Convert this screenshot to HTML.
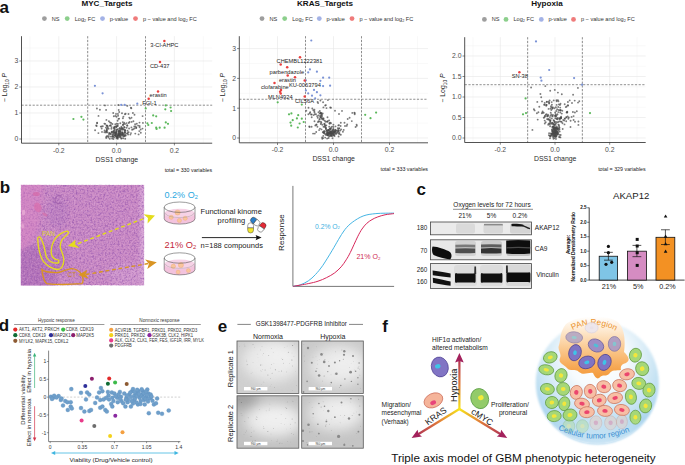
<!DOCTYPE html><html><head><meta charset="utf-8"><style>html,body{margin:0;padding:0;background:#fff;overflow:hidden}svg{display:block}</style></head><body><svg width="685" height="465" viewBox="0 0 685 465" font-family='"Liberation Sans", sans-serif'>
<rect width="685" height="465" fill="#fff"/>
<defs>
<filter color-interpolation-filters="sRGB" id="hnoise" x="0" y="0" width="100%" height="100%" filterUnits="objectBoundingBox">
  <feTurbulence type="fractalNoise" baseFrequency="0.55" numOctaves="2" seed="4" result="n"/>
  <feColorMatrix in="n" type="matrix" values="0 0 0 0 0.56  0 0 0 0 0.31  0 0 0 0 0.67  1.7 0 0 0 -0.74"/>
  <feGaussianBlur stdDeviation="0.5"/>
</filter>
<filter color-interpolation-filters="sRGB" id="hnoise2" x="0" y="0" width="100%" height="100%" filterUnits="objectBoundingBox">
  <feTurbulence type="fractalNoise" baseFrequency="0.7" numOctaves="1" seed="9" result="n"/>
  <feColorMatrix in="n" type="matrix" values="0 0 0 0 1  0 0 0 0 0.85  0 0 0 0 1  0 2.0 0 0 -1.0"/>
</filter>
<filter color-interpolation-filters="sRGB" id="mblur" x="-1" y="-1" width="3" height="3"><feGaussianBlur stdDeviation="6"/></filter>
<filter color-interpolation-filters="sRGB" id="blur03" x="-1" y="-1" width="3" height="3"><feGaussianBlur stdDeviation="0.45"/></filter>
<filter color-interpolation-filters="sRGB" id="cblur" x="-0.1" y="-0.1" width="1.2" height="1.2"><feGaussianBlur stdDeviation="1.2"/></filter>
<filter color-interpolation-filters="sRGB" id="blur1"><feGaussianBlur stdDeviation="1.2"/></filter>
<filter color-interpolation-filters="sRGB" id="blur05"><feGaussianBlur stdDeviation="0.6"/></filter>
<filter color-interpolation-filters="sRGB" id="blur2"><feGaussianBlur stdDeviation="2.2"/></filter>
<filter color-interpolation-filters="sRGB" id="blur3"><feGaussianBlur stdDeviation="3.5"/></filter>
<filter color-interpolation-filters="sRGB" id="mnoise" x="0" y="0" width="100%" height="100%" filterUnits="objectBoundingBox">
  <feTurbulence type="fractalNoise" baseFrequency="0.9" numOctaves="1" seed="2" result="n"/>
  <feColorMatrix in="n" type="matrix" values="0 0 0 0 0.3  0 0 0 0 0.3  0 0 0 0 0.3  1.8 0 0 0 -0.95"/>
</filter>
<radialGradient id="mic1" cx="0.55" cy="0.4" r="0.75">
  <stop offset="0" stop-color="#f2f2f2"/><stop offset="0.45" stop-color="#ececec"/><stop offset="0.75" stop-color="#d6d6d6"/><stop offset="1" stop-color="#b8b8b8"/>
</radialGradient>
<radialGradient id="mic2" cx="0.6" cy="0.45" r="0.75">
  <stop offset="0" stop-color="#f4f4f4"/><stop offset="0.4" stop-color="#eeeeee"/><stop offset="0.72" stop-color="#d4d4d4"/><stop offset="1" stop-color="#b2b2b2"/>
</radialGradient>
<radialGradient id="mic3" cx="0.6" cy="0.55" r="0.8">
  <stop offset="0" stop-color="#f2f2f2"/><stop offset="0.4" stop-color="#eaeaea"/><stop offset="0.7" stop-color="#cfcfcf"/><stop offset="1" stop-color="#9c9c9c"/>
</radialGradient>
<radialGradient id="mic4" cx="0.55" cy="0.45" r="0.78">
  <stop offset="0" stop-color="#f3f3f3"/><stop offset="0.45" stop-color="#ececec"/><stop offset="0.75" stop-color="#d2d2d2"/><stop offset="1" stop-color="#b0b0b0"/>
</radialGradient>
<radialGradient id="tumor" cx="0.5" cy="0.3" r="0.66">
  <stop offset="0" stop-color="#ffffff"/><stop offset="0.35" stop-color="#f7fbfd"/><stop offset="0.6" stop-color="#d9ecf7"/><stop offset="0.8" stop-color="#c0e0f2"/><stop offset="1" stop-color="#a4d1ed"/>
</radialGradient>
<linearGradient id="pan" x1="0" y1="0" x2="0" y2="1">
  <stop offset="0" stop-color="#ffffff"/><stop offset="0.2" stop-color="#feecd6"/><stop offset="0.55" stop-color="#fac68a"/><stop offset="0.85" stop-color="#f6a54e"/><stop offset="1" stop-color="#f39a3a"/>
</linearGradient>
<linearGradient id="axup" gradientUnits="userSpaceOnUse" x1="459.4" y1="409" x2="459.4" y2="353">
  <stop offset="0" stop-color="#f7e51a"/><stop offset="0.45" stop-color="#e07a3a"/><stop offset="1" stop-color="#a3215c"/>
</linearGradient>
<linearGradient id="axl" gradientUnits="userSpaceOnUse" x1="459.4" y1="409" x2="412" y2="438">
  <stop offset="0" stop-color="#f7e51a"/><stop offset="0.45" stop-color="#e07a3a"/><stop offset="1" stop-color="#a3215c"/>
</linearGradient>
<linearGradient id="axr" gradientUnits="userSpaceOnUse" x1="459.4" y1="409" x2="507" y2="438">
  <stop offset="0" stop-color="#f7e51a"/><stop offset="0.45" stop-color="#e07a3a"/><stop offset="1" stop-color="#a3215c"/>
</linearGradient>
<linearGradient id="blotbg" x1="0" y1="0" x2="0" y2="1">
  <stop offset="0" stop-color="#e2e2e2"/><stop offset="1" stop-color="#dcdcdc"/>
</linearGradient>
<linearGradient id="fadeb" x1="0" y1="0" x2="0" y2="1">
  <stop offset="0" stop-color="#fff" stop-opacity="0"/><stop offset="1" stop-color="#fff" stop-opacity="0.85"/>
</linearGradient>
<clipPath id="histclip"><rect x="20.8" y="184.8" width="123.4" height="100.6"/></clipPath>
<clipPath id="tclip"><circle cx="597.3" cy="382.8" r="61"/></clipPath>
<path id="panarc" d="M566,334 Q594,315 622,335"/>
<path id="ctarc" d="M551,426 Q594,450 637,428"/>
<marker id="ah" markerWidth="6" markerHeight="6" refX="5" refY="3" orient="auto" markerUnits="userSpaceOnUse"><path d="M0,0 L6,3 L0,6 z" fill="#111"/></marker>
</defs>
<text x="-0.60" y="12.90" font-size="17" fill="#111" text-anchor="start" font-weight="bold" >a</text>
<text x="-0.20" y="192.60" font-size="17" fill="#111" text-anchor="start" font-weight="bold" >b</text>
<text x="416.40" y="194.60" font-size="17" fill="#111" text-anchor="start" font-weight="bold" >c</text>
<text x="-1.20" y="331.30" font-size="17" fill="#111" text-anchor="start" font-weight="bold" >d</text>
<text x="217.80" y="332.20" font-size="17" fill="#111" text-anchor="start" font-weight="bold" >e</text>
<text x="382.20" y="331.50" font-size="17" fill="#111" text-anchor="start" font-weight="bold" >f</text>
<g stroke="#f3f3f3" stroke-width="0.5">
<line x1="29.90" y1="36.2" x2="29.90" y2="143.2"/>
<line x1="87.70" y1="36.2" x2="87.70" y2="143.2"/>
<line x1="145.50" y1="36.2" x2="145.50" y2="143.2"/>
<line x1="203.30" y1="36.2" x2="203.30" y2="143.2"/>
<line x1="21.5" y1="126.00" x2="212.2" y2="126.00"/>
<line x1="21.5" y1="100.00" x2="212.2" y2="100.00"/>
<line x1="21.5" y1="74.00" x2="212.2" y2="74.00"/>
<line x1="21.5" y1="48.00" x2="212.2" y2="48.00"/>
</g>
<g stroke="#e6e6e6" stroke-width="0.6">
<line x1="58.80" y1="36.2" x2="58.80" y2="143.2"/>
<line x1="116.60" y1="36.2" x2="116.60" y2="143.2"/>
<line x1="174.40" y1="36.2" x2="174.40" y2="143.2"/>
<line x1="21.5" y1="139.00" x2="212.2" y2="139.00"/>
<line x1="21.5" y1="113.00" x2="212.2" y2="113.00"/>
<line x1="21.5" y1="87.00" x2="212.2" y2="87.00"/>
<line x1="21.5" y1="61.00" x2="212.2" y2="61.00"/>
</g>
<g stroke="#444" stroke-width="0.6" stroke-dasharray="2.2,1.5">
<line x1="87.70" y1="36.2" x2="87.70" y2="143.2"/>
<line x1="145.50" y1="36.2" x2="145.50" y2="143.2"/>
<line x1="21.5" y1="105.20" x2="212.2" y2="105.20"/>
</g>
<g fill="#4a4a4a" fill-opacity="0.72">
<circle cx="115.6" cy="135.1" r="0.95"/>
<circle cx="115.8" cy="132.5" r="0.95"/>
<circle cx="111.9" cy="132.8" r="0.95"/>
<circle cx="123.1" cy="134.9" r="0.95"/>
<circle cx="122.7" cy="134.3" r="0.95"/>
<circle cx="119.2" cy="134.1" r="0.95"/>
<circle cx="107.8" cy="136.2" r="0.95"/>
<circle cx="119.8" cy="135.1" r="0.95"/>
<circle cx="107.7" cy="127.9" r="0.95"/>
<circle cx="112.1" cy="132.0" r="0.95"/>
<circle cx="118.7" cy="133.4" r="0.95"/>
<circle cx="119.9" cy="131.4" r="0.95"/>
<circle cx="118.7" cy="134.8" r="0.95"/>
<circle cx="113.4" cy="139.0" r="0.95"/>
<circle cx="120.1" cy="137.3" r="0.95"/>
<circle cx="113.6" cy="131.1" r="0.95"/>
<circle cx="115.1" cy="133.2" r="0.95"/>
<circle cx="120.5" cy="134.3" r="0.95"/>
<circle cx="114.5" cy="130.4" r="0.95"/>
<circle cx="114.1" cy="137.4" r="0.95"/>
<circle cx="112.6" cy="134.3" r="0.95"/>
<circle cx="119.3" cy="128.7" r="0.95"/>
<circle cx="117.3" cy="137.7" r="0.95"/>
<circle cx="105.9" cy="132.5" r="0.95"/>
<circle cx="116.4" cy="130.9" r="0.95"/>
<circle cx="119.7" cy="133.3" r="0.95"/>
<circle cx="108.9" cy="136.1" r="0.95"/>
<circle cx="120.7" cy="136.5" r="0.95"/>
<circle cx="124.9" cy="134.7" r="0.95"/>
<circle cx="117.7" cy="129.3" r="0.95"/>
<circle cx="120.4" cy="131.5" r="0.95"/>
<circle cx="114.5" cy="129.5" r="0.95"/>
<circle cx="111.7" cy="131.8" r="0.95"/>
<circle cx="124.1" cy="127.0" r="0.95"/>
<circle cx="109.0" cy="134.3" r="0.95"/>
<circle cx="124.9" cy="135.4" r="0.95"/>
<circle cx="106.6" cy="125.4" r="0.95"/>
<circle cx="119.0" cy="131.1" r="0.95"/>
<circle cx="110.8" cy="136.6" r="0.95"/>
<circle cx="123.1" cy="134.0" r="0.95"/>
<circle cx="118.4" cy="134.9" r="0.95"/>
<circle cx="125.8" cy="135.5" r="0.95"/>
<circle cx="119.9" cy="135.3" r="0.95"/>
<circle cx="108.4" cy="137.6" r="0.95"/>
<circle cx="122.3" cy="135.2" r="0.95"/>
<circle cx="106.1" cy="131.5" r="0.95"/>
<circle cx="121.6" cy="127.7" r="0.95"/>
<circle cx="116.0" cy="136.8" r="0.95"/>
<circle cx="109.8" cy="138.7" r="0.95"/>
<circle cx="120.0" cy="133.0" r="0.95"/>
<circle cx="118.8" cy="135.6" r="0.95"/>
<circle cx="117.7" cy="137.2" r="0.95"/>
<circle cx="113.4" cy="132.2" r="0.95"/>
<circle cx="122.7" cy="133.6" r="0.95"/>
<circle cx="112.2" cy="136.5" r="0.95"/>
<circle cx="125.1" cy="132.1" r="0.95"/>
<circle cx="109.4" cy="133.1" r="0.95"/>
<circle cx="116.2" cy="132.5" r="0.95"/>
<circle cx="124.7" cy="130.2" r="0.95"/>
<circle cx="123.9" cy="129.4" r="0.95"/>
<circle cx="112.7" cy="135.5" r="0.95"/>
<circle cx="123.2" cy="136.2" r="0.95"/>
<circle cx="118.9" cy="134.0" r="0.95"/>
<circle cx="117.8" cy="135.3" r="0.95"/>
<circle cx="116.0" cy="134.4" r="0.95"/>
<circle cx="120.1" cy="133.5" r="0.95"/>
<circle cx="121.2" cy="135.3" r="0.95"/>
<circle cx="128.1" cy="134.5" r="0.95"/>
<circle cx="114.6" cy="132.3" r="0.95"/>
<circle cx="116.9" cy="136.5" r="0.95"/>
<circle cx="115.1" cy="134.7" r="0.95"/>
<circle cx="127.1" cy="125.3" r="0.95"/>
<circle cx="110.8" cy="134.3" r="0.95"/>
<circle cx="119.2" cy="134.3" r="0.95"/>
<circle cx="114.6" cy="135.6" r="0.95"/>
<circle cx="118.6" cy="131.8" r="0.95"/>
<circle cx="130.4" cy="134.6" r="0.95"/>
<circle cx="114.0" cy="133.2" r="0.95"/>
<circle cx="115.8" cy="133.3" r="0.95"/>
<circle cx="102.0" cy="131.9" r="0.95"/>
<circle cx="122.5" cy="129.8" r="0.95"/>
<circle cx="116.6" cy="136.6" r="0.95"/>
<circle cx="121.7" cy="138.3" r="0.95"/>
<circle cx="107.6" cy="132.4" r="0.95"/>
<circle cx="115.1" cy="135.5" r="0.95"/>
<circle cx="123.0" cy="124.9" r="0.95"/>
<circle cx="123.0" cy="128.9" r="0.95"/>
<circle cx="120.8" cy="128.7" r="0.95"/>
<circle cx="118.0" cy="137.3" r="0.95"/>
<circle cx="116.2" cy="134.1" r="0.95"/>
<circle cx="121.4" cy="134.0" r="0.95"/>
<circle cx="116.5" cy="138.4" r="0.95"/>
<circle cx="122.8" cy="132.6" r="0.95"/>
<circle cx="132.1" cy="129.8" r="0.95"/>
<circle cx="122.0" cy="132.6" r="0.95"/>
<circle cx="117.7" cy="135.8" r="0.95"/>
<circle cx="118.2" cy="135.5" r="0.95"/>
<circle cx="108.6" cy="128.7" r="0.95"/>
<circle cx="120.4" cy="130.4" r="0.95"/>
<circle cx="111.4" cy="128.8" r="0.95"/>
<circle cx="124.0" cy="135.9" r="0.95"/>
<circle cx="125.1" cy="130.5" r="0.95"/>
<circle cx="117.0" cy="129.9" r="0.95"/>
<circle cx="121.2" cy="138.6" r="0.95"/>
<circle cx="112.1" cy="138.5" r="0.95"/>
<circle cx="122.4" cy="132.9" r="0.95"/>
<circle cx="106.2" cy="138.0" r="0.95"/>
<circle cx="116.5" cy="131.6" r="0.95"/>
<circle cx="119.2" cy="134.8" r="0.95"/>
<circle cx="125.2" cy="130.2" r="0.95"/>
<circle cx="123.2" cy="138.3" r="0.95"/>
<circle cx="125.0" cy="132.9" r="0.95"/>
<circle cx="112.9" cy="136.8" r="0.95"/>
<circle cx="117.6" cy="133.9" r="0.95"/>
<circle cx="124.8" cy="132.7" r="0.95"/>
<circle cx="104.4" cy="132.3" r="0.95"/>
<circle cx="106.8" cy="136.1" r="0.95"/>
<circle cx="118.7" cy="131.5" r="0.95"/>
<circle cx="116.9" cy="136.2" r="0.95"/>
<circle cx="117.4" cy="137.7" r="0.95"/>
<circle cx="116.7" cy="136.8" r="0.95"/>
<circle cx="125.2" cy="138.7" r="0.95"/>
<circle cx="113.3" cy="136.3" r="0.95"/>
<circle cx="106.7" cy="130.0" r="0.95"/>
<circle cx="106.2" cy="136.9" r="0.95"/>
<circle cx="110.2" cy="133.5" r="0.95"/>
<circle cx="115.9" cy="133.4" r="0.95"/>
<circle cx="113.7" cy="134.2" r="0.95"/>
<circle cx="126.9" cy="133.6" r="0.95"/>
<circle cx="119.9" cy="136.7" r="0.95"/>
<circle cx="112.4" cy="124.0" r="0.95"/>
<circle cx="109.6" cy="133.3" r="0.95"/>
<circle cx="100.8" cy="126.6" r="0.95"/>
<circle cx="122.1" cy="132.2" r="0.95"/>
<circle cx="114.1" cy="132.2" r="0.95"/>
<circle cx="115.3" cy="124.3" r="0.95"/>
<circle cx="101.5" cy="126.4" r="0.95"/>
<circle cx="121.4" cy="126.7" r="0.95"/>
<circle cx="106.8" cy="125.9" r="0.95"/>
<circle cx="101.7" cy="128.5" r="0.95"/>
<circle cx="104.6" cy="130.5" r="0.95"/>
<circle cx="95.1" cy="130.3" r="0.95"/>
<circle cx="108.9" cy="121.2" r="0.95"/>
<circle cx="119.8" cy="127.9" r="0.95"/>
<circle cx="96.2" cy="125.5" r="0.95"/>
<circle cx="116.3" cy="127.2" r="0.95"/>
<circle cx="120.2" cy="132.0" r="0.95"/>
<circle cx="119.3" cy="130.3" r="0.95"/>
<circle cx="124.7" cy="131.6" r="0.95"/>
<circle cx="117.6" cy="120.7" r="0.95"/>
<circle cx="121.2" cy="134.2" r="0.95"/>
<circle cx="111.6" cy="127.1" r="0.95"/>
<circle cx="129.5" cy="122.0" r="0.95"/>
<circle cx="117.8" cy="138.7" r="0.95"/>
<circle cx="106.6" cy="131.8" r="0.95"/>
<circle cx="129.1" cy="128.5" r="0.95"/>
<circle cx="118.5" cy="132.6" r="0.95"/>
<circle cx="106.8" cy="128.6" r="0.95"/>
<circle cx="116.3" cy="132.3" r="0.95"/>
<circle cx="113.7" cy="128.2" r="0.95"/>
<circle cx="105.9" cy="127.6" r="0.95"/>
<circle cx="121.1" cy="129.4" r="0.95"/>
<circle cx="107.2" cy="125.6" r="0.95"/>
<circle cx="135.3" cy="133.6" r="0.95"/>
<circle cx="119.1" cy="118.6" r="0.95"/>
<circle cx="119.0" cy="130.9" r="0.95"/>
<circle cx="127.5" cy="130.7" r="0.95"/>
<circle cx="113.5" cy="131.1" r="0.95"/>
<circle cx="98.4" cy="133.1" r="0.95"/>
<circle cx="116.6" cy="126.2" r="0.95"/>
<circle cx="124.6" cy="136.2" r="0.95"/>
<circle cx="102.8" cy="126.3" r="0.95"/>
<circle cx="116.3" cy="129.7" r="0.95"/>
<circle cx="110.8" cy="125.1" r="0.95"/>
<circle cx="131.0" cy="133.1" r="0.95"/>
<circle cx="104.4" cy="123.6" r="0.95"/>
<circle cx="127.6" cy="133.0" r="0.95"/>
<circle cx="128.6" cy="132.2" r="0.95"/>
<circle cx="107.0" cy="130.0" r="0.95"/>
<circle cx="96.7" cy="126.0" r="0.95"/>
<circle cx="117.4" cy="125.6" r="0.95"/>
<circle cx="110.0" cy="122.4" r="0.95"/>
<circle cx="123.0" cy="124.9" r="0.95"/>
<circle cx="125.0" cy="124.0" r="0.95"/>
<circle cx="114.4" cy="126.9" r="0.95"/>
<circle cx="118.5" cy="118.9" r="0.95"/>
<circle cx="111.1" cy="123.0" r="0.95"/>
<circle cx="116.8" cy="123.8" r="0.95"/>
<circle cx="118.0" cy="123.9" r="0.95"/>
<circle cx="116.5" cy="116.7" r="0.95"/>
<circle cx="122.6" cy="128.3" r="0.95"/>
<circle cx="122.8" cy="122.1" r="0.95"/>
<circle cx="122.9" cy="118.2" r="0.95"/>
<circle cx="97.1" cy="123.3" r="0.95"/>
<circle cx="107.8" cy="126.7" r="0.95"/>
<circle cx="106.1" cy="109.9" r="0.95"/>
<circle cx="106.6" cy="130.9" r="0.95"/>
<circle cx="113.8" cy="116.2" r="0.95"/>
<circle cx="109.6" cy="125.6" r="0.95"/>
<circle cx="123.5" cy="123.9" r="0.95"/>
<circle cx="134.3" cy="126.5" r="0.95"/>
<circle cx="117.8" cy="126.0" r="0.95"/>
<circle cx="136.2" cy="127.9" r="0.95"/>
<circle cx="129.3" cy="117.6" r="0.95"/>
<circle cx="116.4" cy="126.6" r="0.95"/>
<circle cx="114.7" cy="128.3" r="0.95"/>
<circle cx="124.6" cy="127.5" r="0.95"/>
<circle cx="115.7" cy="135.7" r="0.95"/>
<circle cx="131.6" cy="121.9" r="0.95"/>
<circle cx="119.0" cy="136.0" r="0.95"/>
<circle cx="114.2" cy="127.4" r="0.95"/>
<circle cx="128.8" cy="123.0" r="0.95"/>
<circle cx="105.2" cy="123.9" r="0.95"/>
<circle cx="122.0" cy="128.6" r="0.95"/>
<circle cx="126.6" cy="123.1" r="0.95"/>
<circle cx="127.4" cy="125.7" r="0.95"/>
<circle cx="120.3" cy="123.3" r="0.95"/>
<circle cx="115.3" cy="126.4" r="0.95"/>
<circle cx="106.4" cy="119.9" r="0.95"/>
<circle cx="118.1" cy="115.7" r="0.95"/>
<circle cx="113.2" cy="113.0" r="0.95"/>
<circle cx="110.5" cy="125.8" r="0.95"/>
<circle cx="124.2" cy="122.7" r="0.95"/>
<circle cx="115.4" cy="115.9" r="0.95"/>
<circle cx="138.1" cy="125.6" r="0.95"/>
<circle cx="130.0" cy="118.6" r="0.95"/>
<circle cx="116.0" cy="113.9" r="0.95"/>
<circle cx="126.6" cy="127.7" r="0.95"/>
<circle cx="97.1" cy="122.7" r="0.95"/>
<circle cx="124.9" cy="114.2" r="0.95"/>
<circle cx="123.4" cy="116.6" r="0.95"/>
<circle cx="128.5" cy="114.0" r="0.95"/>
<circle cx="105.0" cy="105.4" r="0.95"/>
<circle cx="99.9" cy="109.7" r="0.95"/>
<circle cx="98.5" cy="115.9" r="0.95"/>
<circle cx="122.0" cy="113.2" r="0.95"/>
<circle cx="125.6" cy="113.8" r="0.95"/>
<circle cx="118.4" cy="105.0" r="0.95"/>
<circle cx="134.5" cy="114.7" r="0.95"/>
<circle cx="119.2" cy="112.0" r="0.95"/>
<circle cx="127.3" cy="105.9" r="0.95"/>
<circle cx="131.3" cy="108.3" r="0.95"/>
<circle cx="96.9" cy="108.5" r="0.95"/>
<circle cx="130.9" cy="107.7" r="0.95"/>
<circle cx="131.5" cy="117.7" r="0.95"/>
<circle cx="118.7" cy="110.0" r="0.95"/>
<circle cx="117.9" cy="113.9" r="0.95"/>
<circle cx="132.9" cy="113.0" r="0.95"/>
<circle cx="135.7" cy="126.4" r="0.95"/>
<circle cx="139.3" cy="131.1" r="0.95"/>
<circle cx="136.8" cy="123.7" r="0.95"/>
<circle cx="136.3" cy="127.7" r="0.95"/>
<circle cx="140.7" cy="129.5" r="0.95"/>
<circle cx="133.4" cy="121.2" r="0.95"/>
<circle cx="135.1" cy="124.3" r="0.95"/>
<circle cx="131.4" cy="127.4" r="0.95"/>
<circle cx="134.5" cy="128.5" r="0.95"/>
<circle cx="139.6" cy="125.9" r="0.95"/>
<circle cx="142.5" cy="128.6" r="0.95"/>
<circle cx="142.6" cy="116.1" r="0.95"/>
<circle cx="133.2" cy="129.2" r="0.95"/>
<circle cx="138.6" cy="134.4" r="0.95"/>
<circle cx="140.8" cy="132.7" r="0.95"/>
<circle cx="139.6" cy="127.2" r="0.95"/>
<circle cx="139.5" cy="122.6" r="0.95"/>
<circle cx="142.9" cy="122.9" r="0.95"/>
</g>
<g fill="#5cb85c">
<circle cx="145.7" cy="108.4" r="1.1"/>
<circle cx="165.8" cy="105.4" r="1.1"/>
<circle cx="165.3" cy="109.3" r="1.1"/>
<circle cx="170.6" cy="107.5" r="1.1"/>
<circle cx="171.1" cy="111.0" r="1.1"/>
<circle cx="153.2" cy="115.4" r="1.1"/>
<circle cx="156.2" cy="116.3" r="1.1"/>
<circle cx="147.4" cy="123.3" r="1.1"/>
<circle cx="148.3" cy="125.0" r="1.1"/>
<circle cx="151.8" cy="123.0" r="1.1"/>
<circle cx="156.2" cy="127.7" r="1.1"/>
<circle cx="156.6" cy="128.9" r="1.1"/>
<circle cx="159.7" cy="127.7" r="1.1"/>
<circle cx="164.6" cy="127.7" r="1.1"/>
<circle cx="165.8" cy="122.4" r="1.1"/>
<circle cx="168.0" cy="123.8" r="1.1"/>
<circle cx="73.4" cy="119.0" r="1.1"/>
<circle cx="81.4" cy="116.8" r="1.1"/>
<circle cx="83.4" cy="119.6" r="1.1"/>
</g>
<g fill="#7b93d6">
<circle cx="94.9" cy="85.8" r="1.1"/>
<circle cx="102.6" cy="93.3" r="1.1"/>
<circle cx="121.2" cy="104.9" r="1.1"/>
<circle cx="124.7" cy="104.9" r="1.1"/>
<circle cx="137.3" cy="103.7" r="1.1"/>
</g>
<g fill="#e8403f">
<circle cx="164.4" cy="41.0" r="1.25"/>
<circle cx="160.0" cy="61.9" r="1.25"/>
<circle cx="158.0" cy="91.4" r="1.25"/>
<circle cx="148.7" cy="98.8" r="1.25"/>
</g>
<text x="150.30" y="47.10" font-size="5.7" fill="#222" text-anchor="start" font-weight="normal" >3-Cl-AHPC</text>
<text x="149.90" y="67.90" font-size="5.7" fill="#222" text-anchor="start" font-weight="normal" >CD-437</text>
<text x="149.60" y="97.40" font-size="5.7" fill="#222" text-anchor="start" font-weight="normal" >erastin</text>
<text x="142.20" y="104.70" font-size="5.7" fill="#222" text-anchor="start" font-weight="normal" >FGI-1</text>
<path d="M21.5,36.2 V143.2 H212.2" stroke="#333" stroke-width="0.85" fill="none"/>
<g stroke="#333" stroke-width="0.6">
<line x1="19.3" y1="139.00" x2="21.5" y2="139.00"/>
<line x1="19.3" y1="113.00" x2="21.5" y2="113.00"/>
<line x1="19.3" y1="87.00" x2="21.5" y2="87.00"/>
<line x1="19.3" y1="61.00" x2="21.5" y2="61.00"/>
<line x1="58.80" y1="143.2" x2="58.80" y2="145.39999999999998"/>
<line x1="116.60" y1="143.2" x2="116.60" y2="145.39999999999998"/>
<line x1="174.40" y1="143.2" x2="174.40" y2="145.39999999999998"/>
</g>
<text x="18.30" y="141.40" font-size="6.8" fill="#4d4d4d" text-anchor="end" font-weight="normal" >0</text>
<text x="18.30" y="115.40" font-size="6.8" fill="#4d4d4d" text-anchor="end" font-weight="normal" >1</text>
<text x="18.30" y="89.40" font-size="6.8" fill="#4d4d4d" text-anchor="end" font-weight="normal" >2</text>
<text x="18.30" y="63.40" font-size="6.8" fill="#4d4d4d" text-anchor="end" font-weight="normal" >3</text>
<text x="58.80" y="152.80" font-size="6.8" fill="#4d4d4d" text-anchor="middle" font-weight="normal" >-0.2</text>
<text x="116.60" y="152.80" font-size="6.8" fill="#4d4d4d" text-anchor="middle" font-weight="normal" >0.0</text>
<text x="174.40" y="152.80" font-size="6.8" fill="#4d4d4d" text-anchor="middle" font-weight="normal" >0.2</text>
<text x="116.85" y="161.80" font-size="6.9" fill="#2a2a2a" text-anchor="middle" font-weight="normal" >DSS1 change</text>
<text transform="translate(7.3,87.5) rotate(-90)" font-size="6.9" fill="#222" text-anchor="middle">− Log<tspan font-size="4.8" dy="1.6">10</tspan><tspan dy="-1.6"> </tspan><tspan font-style="italic">P</tspan></text>
<text x="212.20" y="171.50" font-size="5.3" fill="#222" text-anchor="end" font-weight="normal" >total = 330 variables</text>
<text x="107.00" y="6.10" font-size="8.1" fill="#111" text-anchor="middle" font-weight="bold" >MYC_Targets</text>
<circle cx="44.4" cy="18.6" r="2.4" fill="#9e9e9e"/>
<text x="51.80" y="20.60" font-size="5.6" fill="#333" text-anchor="start" font-weight="normal" >NS</text>
<circle cx="67.2" cy="18.6" r="2.4" fill="#8ccf8c"/>
<text x="74.70" y="20.60" font-size="5.6" fill="#333" text-anchor="start" font-weight="normal" >Log<tspan font-size="3.8" dy="1">2</tspan><tspan dy="-1"> FC</tspan></text>
<circle cx="102.5" cy="18.6" r="2.4" fill="#a3b2e6"/>
<text x="109.70" y="20.60" font-size="5.6" fill="#333" text-anchor="start" font-weight="normal" >p-value</text>
<circle cx="135.5" cy="18.6" r="2.4" fill="#ef7b7b"/>
<text x="142.90" y="20.60" font-size="5.6" fill="#333" text-anchor="start" font-weight="normal" >p − value and log<tspan font-size="3.8" dy="1">2</tspan><tspan dy="-1"> FC</tspan></text>
<g stroke="#f3f3f3" stroke-width="0.5">
<line x1="249.50" y1="36.2" x2="249.50" y2="142.8"/>
<line x1="305.50" y1="36.2" x2="305.50" y2="142.8"/>
<line x1="361.50" y1="36.2" x2="361.50" y2="142.8"/>
<line x1="417.50" y1="36.2" x2="417.50" y2="142.8"/>
<line x1="239.3" y1="123.10" x2="428.0" y2="123.10"/>
<line x1="239.3" y1="93.30" x2="428.0" y2="93.30"/>
<line x1="239.3" y1="63.50" x2="428.0" y2="63.50"/>
</g>
<g stroke="#e6e6e6" stroke-width="0.6">
<line x1="277.50" y1="36.2" x2="277.50" y2="142.8"/>
<line x1="333.50" y1="36.2" x2="333.50" y2="142.8"/>
<line x1="389.50" y1="36.2" x2="389.50" y2="142.8"/>
<line x1="239.3" y1="138.00" x2="428.0" y2="138.00"/>
<line x1="239.3" y1="108.20" x2="428.0" y2="108.20"/>
<line x1="239.3" y1="78.40" x2="428.0" y2="78.40"/>
<line x1="239.3" y1="48.60" x2="428.0" y2="48.60"/>
</g>
<g stroke="#444" stroke-width="0.6" stroke-dasharray="2.2,1.5">
<line x1="305.50" y1="36.2" x2="305.50" y2="142.8"/>
<line x1="361.50" y1="36.2" x2="361.50" y2="142.8"/>
<line x1="239.3" y1="99.26" x2="428.0" y2="99.26"/>
</g>
<g fill="#4a4a4a" fill-opacity="0.72">
<circle cx="329.9" cy="132.6" r="0.95"/>
<circle cx="336.8" cy="132.6" r="0.95"/>
<circle cx="327.0" cy="133.4" r="0.95"/>
<circle cx="333.9" cy="135.0" r="0.95"/>
<circle cx="327.1" cy="138.6" r="0.95"/>
<circle cx="339.3" cy="132.6" r="0.95"/>
<circle cx="332.3" cy="131.0" r="0.95"/>
<circle cx="338.1" cy="130.0" r="0.95"/>
<circle cx="334.4" cy="130.8" r="0.95"/>
<circle cx="327.5" cy="135.0" r="0.95"/>
<circle cx="337.7" cy="132.5" r="0.95"/>
<circle cx="327.6" cy="135.3" r="0.95"/>
<circle cx="330.8" cy="133.6" r="0.95"/>
<circle cx="338.6" cy="136.5" r="0.95"/>
<circle cx="331.0" cy="135.3" r="0.95"/>
<circle cx="327.8" cy="132.3" r="0.95"/>
<circle cx="322.3" cy="138.8" r="0.95"/>
<circle cx="337.8" cy="128.2" r="0.95"/>
<circle cx="323.5" cy="126.8" r="0.95"/>
<circle cx="336.9" cy="130.9" r="0.95"/>
<circle cx="330.7" cy="131.4" r="0.95"/>
<circle cx="330.4" cy="128.7" r="0.95"/>
<circle cx="331.1" cy="127.5" r="0.95"/>
<circle cx="330.6" cy="133.6" r="0.95"/>
<circle cx="333.3" cy="131.7" r="0.95"/>
<circle cx="326.5" cy="133.1" r="0.95"/>
<circle cx="328.6" cy="138.0" r="0.95"/>
<circle cx="334.8" cy="132.1" r="0.95"/>
<circle cx="328.6" cy="130.0" r="0.95"/>
<circle cx="326.3" cy="131.3" r="0.95"/>
<circle cx="332.5" cy="134.3" r="0.95"/>
<circle cx="327.5" cy="132.5" r="0.95"/>
<circle cx="345.0" cy="126.0" r="0.95"/>
<circle cx="328.4" cy="133.1" r="0.95"/>
<circle cx="331.8" cy="133.9" r="0.95"/>
<circle cx="329.8" cy="133.8" r="0.95"/>
<circle cx="331.3" cy="135.2" r="0.95"/>
<circle cx="321.5" cy="129.4" r="0.95"/>
<circle cx="331.0" cy="128.9" r="0.95"/>
<circle cx="325.8" cy="134.7" r="0.95"/>
<circle cx="327.8" cy="134.7" r="0.95"/>
<circle cx="334.7" cy="133.6" r="0.95"/>
<circle cx="333.5" cy="132.1" r="0.95"/>
<circle cx="324.0" cy="132.4" r="0.95"/>
<circle cx="333.3" cy="130.6" r="0.95"/>
<circle cx="330.5" cy="135.1" r="0.95"/>
<circle cx="326.6" cy="134.7" r="0.95"/>
<circle cx="340.3" cy="130.6" r="0.95"/>
<circle cx="331.7" cy="132.0" r="0.95"/>
<circle cx="338.7" cy="133.6" r="0.95"/>
<circle cx="335.5" cy="130.1" r="0.95"/>
<circle cx="330.9" cy="132.5" r="0.95"/>
<circle cx="322.1" cy="137.5" r="0.95"/>
<circle cx="335.5" cy="126.4" r="0.95"/>
<circle cx="334.7" cy="132.0" r="0.95"/>
<circle cx="333.2" cy="133.8" r="0.95"/>
<circle cx="323.5" cy="131.8" r="0.95"/>
<circle cx="338.5" cy="130.5" r="0.95"/>
<circle cx="325.9" cy="127.7" r="0.95"/>
<circle cx="324.9" cy="133.7" r="0.95"/>
<circle cx="339.5" cy="134.0" r="0.95"/>
<circle cx="328.4" cy="130.1" r="0.95"/>
<circle cx="333.6" cy="134.4" r="0.95"/>
<circle cx="325.9" cy="128.4" r="0.95"/>
<circle cx="332.5" cy="133.4" r="0.95"/>
<circle cx="324.5" cy="131.8" r="0.95"/>
<circle cx="328.3" cy="134.1" r="0.95"/>
<circle cx="330.4" cy="132.2" r="0.95"/>
<circle cx="329.2" cy="136.2" r="0.95"/>
<circle cx="338.0" cy="131.2" r="0.95"/>
<circle cx="335.2" cy="129.8" r="0.95"/>
<circle cx="331.4" cy="135.1" r="0.95"/>
<circle cx="338.6" cy="131.2" r="0.95"/>
<circle cx="330.6" cy="133.2" r="0.95"/>
<circle cx="323.5" cy="132.6" r="0.95"/>
<circle cx="327.6" cy="133.8" r="0.95"/>
<circle cx="325.4" cy="125.6" r="0.95"/>
<circle cx="331.2" cy="133.4" r="0.95"/>
<circle cx="328.3" cy="135.6" r="0.95"/>
<circle cx="329.6" cy="130.4" r="0.95"/>
<circle cx="333.4" cy="127.0" r="0.95"/>
<circle cx="327.6" cy="132.4" r="0.95"/>
<circle cx="335.2" cy="131.9" r="0.95"/>
<circle cx="332.5" cy="130.2" r="0.95"/>
<circle cx="332.5" cy="138.3" r="0.95"/>
<circle cx="327.8" cy="132.6" r="0.95"/>
<circle cx="331.9" cy="136.1" r="0.95"/>
<circle cx="324.8" cy="125.1" r="0.95"/>
<circle cx="334.0" cy="135.3" r="0.95"/>
<circle cx="332.0" cy="133.4" r="0.95"/>
<circle cx="335.6" cy="133.8" r="0.95"/>
<circle cx="339.3" cy="128.2" r="0.95"/>
<circle cx="329.1" cy="120.4" r="0.95"/>
<circle cx="335.1" cy="131.2" r="0.95"/>
<circle cx="331.0" cy="131.6" r="0.95"/>
<circle cx="328.5" cy="129.6" r="0.95"/>
<circle cx="327.8" cy="134.7" r="0.95"/>
<circle cx="331.2" cy="132.7" r="0.95"/>
<circle cx="330.1" cy="135.7" r="0.95"/>
<circle cx="333.5" cy="132.0" r="0.95"/>
<circle cx="334.3" cy="132.0" r="0.95"/>
<circle cx="325.2" cy="137.6" r="0.95"/>
<circle cx="333.3" cy="129.1" r="0.95"/>
<circle cx="336.4" cy="133.7" r="0.95"/>
<circle cx="323.2" cy="138.1" r="0.95"/>
<circle cx="332.7" cy="135.6" r="0.95"/>
<circle cx="332.0" cy="132.0" r="0.95"/>
<circle cx="323.3" cy="135.9" r="0.95"/>
<circle cx="331.2" cy="131.5" r="0.95"/>
<circle cx="332.8" cy="132.8" r="0.95"/>
<circle cx="317.1" cy="116.1" r="0.95"/>
<circle cx="316.0" cy="114.2" r="0.95"/>
<circle cx="314.4" cy="109.8" r="0.95"/>
<circle cx="319.5" cy="118.9" r="0.95"/>
<circle cx="333.3" cy="129.3" r="0.95"/>
<circle cx="323.1" cy="119.0" r="0.95"/>
<circle cx="319.1" cy="130.1" r="0.95"/>
<circle cx="314.5" cy="112.4" r="0.95"/>
<circle cx="316.5" cy="124.5" r="0.95"/>
<circle cx="332.0" cy="126.6" r="0.95"/>
<circle cx="319.8" cy="111.0" r="0.95"/>
<circle cx="325.8" cy="129.0" r="0.95"/>
<circle cx="322.0" cy="116.2" r="0.95"/>
<circle cx="320.2" cy="117.1" r="0.95"/>
<circle cx="329.1" cy="133.4" r="0.95"/>
<circle cx="325.2" cy="105.5" r="0.95"/>
<circle cx="330.1" cy="128.9" r="0.95"/>
<circle cx="323.4" cy="119.9" r="0.95"/>
<circle cx="324.2" cy="130.9" r="0.95"/>
<circle cx="321.4" cy="113.3" r="0.95"/>
<circle cx="327.3" cy="121.7" r="0.95"/>
<circle cx="324.5" cy="126.7" r="0.95"/>
<circle cx="321.4" cy="118.3" r="0.95"/>
<circle cx="333.6" cy="133.1" r="0.95"/>
<circle cx="321.3" cy="122.8" r="0.95"/>
<circle cx="313.2" cy="110.1" r="0.95"/>
<circle cx="312.3" cy="108.5" r="0.95"/>
<circle cx="324.0" cy="133.2" r="0.95"/>
<circle cx="319.7" cy="113.6" r="0.95"/>
<circle cx="329.9" cy="128.8" r="0.95"/>
<circle cx="308.5" cy="107.8" r="0.95"/>
<circle cx="329.6" cy="123.7" r="0.95"/>
<circle cx="330.3" cy="122.6" r="0.95"/>
<circle cx="326.6" cy="130.4" r="0.95"/>
<circle cx="327.8" cy="130.6" r="0.95"/>
<circle cx="329.4" cy="133.3" r="0.95"/>
<circle cx="322.1" cy="119.1" r="0.95"/>
<circle cx="326.3" cy="125.4" r="0.95"/>
<circle cx="329.7" cy="131.5" r="0.95"/>
<circle cx="325.4" cy="121.7" r="0.95"/>
<circle cx="320.8" cy="124.0" r="0.95"/>
<circle cx="334.6" cy="136.0" r="0.95"/>
<circle cx="325.3" cy="126.9" r="0.95"/>
<circle cx="314.8" cy="114.2" r="0.95"/>
<circle cx="320.0" cy="128.6" r="0.95"/>
<circle cx="314.3" cy="111.3" r="0.95"/>
<circle cx="320.7" cy="117.1" r="0.95"/>
<circle cx="311.1" cy="114.6" r="0.95"/>
<circle cx="329.4" cy="123.0" r="0.95"/>
<circle cx="335.3" cy="131.2" r="0.95"/>
<circle cx="323.6" cy="118.4" r="0.95"/>
<circle cx="319.2" cy="121.6" r="0.95"/>
<circle cx="329.5" cy="134.3" r="0.95"/>
<circle cx="320.9" cy="113.7" r="0.95"/>
<circle cx="321.9" cy="114.5" r="0.95"/>
<circle cx="341.1" cy="129.4" r="0.95"/>
<circle cx="333.4" cy="124.8" r="0.95"/>
<circle cx="331.0" cy="123.3" r="0.95"/>
<circle cx="322.7" cy="118.1" r="0.95"/>
<circle cx="322.8" cy="132.2" r="0.95"/>
<circle cx="320.1" cy="115.9" r="0.95"/>
<circle cx="322.3" cy="124.7" r="0.95"/>
<circle cx="331.0" cy="135.9" r="0.95"/>
<circle cx="322.7" cy="113.4" r="0.95"/>
<circle cx="327.5" cy="117.2" r="0.95"/>
<circle cx="326.9" cy="130.2" r="0.95"/>
<circle cx="320.9" cy="121.8" r="0.95"/>
<circle cx="317.9" cy="122.1" r="0.95"/>
<circle cx="324.6" cy="124.0" r="0.95"/>
<circle cx="319.6" cy="119.6" r="0.95"/>
<circle cx="320.8" cy="113.2" r="0.95"/>
<circle cx="328.1" cy="130.7" r="0.95"/>
<circle cx="329.2" cy="132.3" r="0.95"/>
<circle cx="324.3" cy="123.9" r="0.95"/>
<circle cx="327.8" cy="121.1" r="0.95"/>
<circle cx="318.4" cy="115.5" r="0.95"/>
<circle cx="317.4" cy="126.7" r="0.95"/>
<circle cx="339.0" cy="125.1" r="0.95"/>
<circle cx="321.6" cy="115.2" r="0.95"/>
<circle cx="306.3" cy="110.8" r="0.95"/>
<circle cx="321.0" cy="115.9" r="0.95"/>
<circle cx="320.6" cy="112.7" r="0.95"/>
<circle cx="324.8" cy="120.6" r="0.95"/>
<circle cx="329.2" cy="126.8" r="0.95"/>
<circle cx="326.9" cy="121.6" r="0.95"/>
<circle cx="340.8" cy="122.7" r="0.95"/>
<circle cx="342.0" cy="110.9" r="0.95"/>
<circle cx="339.0" cy="114.0" r="0.95"/>
<circle cx="355.6" cy="127.0" r="0.95"/>
<circle cx="354.7" cy="114.2" r="0.95"/>
<circle cx="352.3" cy="112.9" r="0.95"/>
<circle cx="346.7" cy="125.9" r="0.95"/>
<circle cx="342.9" cy="131.8" r="0.95"/>
<circle cx="347.2" cy="124.5" r="0.95"/>
<circle cx="354.4" cy="112.6" r="0.95"/>
<circle cx="356.8" cy="125.7" r="0.95"/>
<circle cx="343.7" cy="129.9" r="0.95"/>
<circle cx="340.8" cy="134.8" r="0.95"/>
<circle cx="347.7" cy="119.0" r="0.95"/>
<circle cx="351.8" cy="121.1" r="0.95"/>
<circle cx="338.9" cy="128.6" r="0.95"/>
<circle cx="336.1" cy="130.5" r="0.95"/>
<circle cx="340.6" cy="126.0" r="0.95"/>
<circle cx="356.6" cy="124.6" r="0.95"/>
<circle cx="349.6" cy="117.8" r="0.95"/>
<circle cx="335.0" cy="110.8" r="0.95"/>
<circle cx="338.3" cy="125.4" r="0.95"/>
<circle cx="344.5" cy="122.8" r="0.95"/>
<circle cx="354.7" cy="113.3" r="0.95"/>
<circle cx="309.6" cy="127.0" r="0.95"/>
<circle cx="311.7" cy="114.4" r="0.95"/>
<circle cx="311.7" cy="117.2" r="0.95"/>
<circle cx="315.3" cy="125.5" r="0.95"/>
<circle cx="309.3" cy="126.4" r="0.95"/>
<circle cx="313.6" cy="115.1" r="0.95"/>
<circle cx="321.0" cy="117.6" r="0.95"/>
<circle cx="308.4" cy="114.2" r="0.95"/>
<circle cx="316.2" cy="132.0" r="0.95"/>
<circle cx="318.5" cy="121.2" r="0.95"/>
<circle cx="310.2" cy="112.3" r="0.95"/>
<circle cx="316.3" cy="124.9" r="0.95"/>
<circle cx="311.6" cy="126.8" r="0.95"/>
<circle cx="313.1" cy="133.6" r="0.95"/>
<circle cx="317.7" cy="117.7" r="0.95"/>
<circle cx="320.5" cy="113.0" r="0.95"/>
<circle cx="314.5" cy="121.3" r="0.95"/>
<circle cx="309.8" cy="113.3" r="0.95"/>
<circle cx="318.5" cy="112.3" r="0.95"/>
<circle cx="314.8" cy="133.6" r="0.95"/>
<circle cx="317.6" cy="102.0" r="0.95"/>
<circle cx="325.9" cy="105.1" r="0.95"/>
<circle cx="326.5" cy="108.1" r="0.95"/>
<circle cx="318.1" cy="103.1" r="0.95"/>
<circle cx="320.4" cy="100.5" r="0.95"/>
<circle cx="331.0" cy="107.8" r="0.95"/>
<circle cx="327.9" cy="100.1" r="0.95"/>
<circle cx="330.2" cy="107.5" r="0.95"/>
<circle cx="323.4" cy="107.4" r="0.95"/>
<circle cx="323.1" cy="102.3" r="0.95"/>
</g>
<g fill="#5cb85c">
<circle cx="277.7" cy="102.3" r="1.1"/>
<circle cx="301.8" cy="104.6" r="1.1"/>
<circle cx="289.0" cy="114.3" r="1.1"/>
<circle cx="291.4" cy="113.4" r="1.1"/>
<circle cx="298.2" cy="115.2" r="1.1"/>
<circle cx="296.9" cy="118.4" r="1.1"/>
<circle cx="301.8" cy="118.7" r="1.1"/>
<circle cx="292.7" cy="120.2" r="1.1"/>
<circle cx="290.5" cy="122.6" r="1.1"/>
<circle cx="299.6" cy="123.5" r="1.1"/>
<circle cx="303.7" cy="122.0" r="1.1"/>
<circle cx="291.2" cy="125.7" r="1.1"/>
<circle cx="297.8" cy="127.5" r="1.1"/>
<circle cx="365.2" cy="114.8" r="1.1"/>
<circle cx="370.5" cy="118.2" r="1.1"/>
<circle cx="376.1" cy="112.6" r="1.1"/>
</g>
<g fill="#7b93d6">
<circle cx="311.3" cy="40.5" r="1.1"/>
<circle cx="309.9" cy="69.4" r="1.1"/>
<circle cx="308.2" cy="72.4" r="1.1"/>
<circle cx="316.9" cy="71.7" r="1.1"/>
<circle cx="323.1" cy="77.7" r="1.1"/>
<circle cx="329.2" cy="77.7" r="1.1"/>
<circle cx="320.4" cy="80.8" r="1.1"/>
<circle cx="305.9" cy="80.3" r="1.1"/>
<circle cx="323.1" cy="86.1" r="1.1"/>
<circle cx="330.1" cy="85.7" r="1.1"/>
<circle cx="305.9" cy="90.4" r="1.1"/>
<circle cx="314.0" cy="89.9" r="1.1"/>
<circle cx="316.9" cy="92.2" r="1.1"/>
<circle cx="308.2" cy="93.4" r="1.1"/>
<circle cx="312.0" cy="95.7" r="1.1"/>
<circle cx="320.4" cy="95.3" r="1.1"/>
<circle cx="315.2" cy="98.3" r="1.1"/>
</g>
<g fill="#e8403f">
<circle cx="300.0" cy="57.2" r="1.25"/>
<circle cx="280.7" cy="64.5" r="1.25"/>
<circle cx="287.2" cy="67.3" r="1.25"/>
<circle cx="287.7" cy="75.5" r="1.25"/>
<circle cx="295.0" cy="77.3" r="1.25"/>
<circle cx="274.5" cy="82.9" r="1.25"/>
<circle cx="281.0" cy="89.9" r="1.25"/>
<circle cx="280.1" cy="91.7" r="1.25"/>
<circle cx="280.7" cy="93.4" r="1.25"/>
<circle cx="304.7" cy="80.5" r="1.25"/>
<circle cx="304.7" cy="96.6" r="1.25"/>
</g>
<text x="276.60" y="63.10" font-size="5.7" fill="#222" text-anchor="start" font-weight="normal" >CHEMBL1222381</text>
<text x="269.60" y="73.80" font-size="5.7" fill="#222" text-anchor="start" font-weight="normal" >parbendazole</text>
<text x="278.90" y="81.50" font-size="5.7" fill="#222" text-anchor="start" font-weight="normal" >erastin</text>
<text x="288.90" y="86.90" font-size="5.7" fill="#222" text-anchor="start" font-weight="normal" >KU-0063794</text>
<text x="260.90" y="89.40" font-size="5.7" fill="#222" text-anchor="start" font-weight="normal" >clofarabine</text>
<text x="267.90" y="99.00" font-size="5.7" fill="#222" text-anchor="start" font-weight="normal" >MLN4924</text>
<text x="295.00" y="102.70" font-size="5.7" fill="#222" text-anchor="start" font-weight="normal" >CIL56A</text>
<path d="M239.3,36.2 V142.8 H428.0" stroke="#333" stroke-width="0.85" fill="none"/>
<g stroke="#333" stroke-width="0.6">
<line x1="237.10000000000002" y1="138.00" x2="239.3" y2="138.00"/>
<line x1="237.10000000000002" y1="108.20" x2="239.3" y2="108.20"/>
<line x1="237.10000000000002" y1="78.40" x2="239.3" y2="78.40"/>
<line x1="237.10000000000002" y1="48.60" x2="239.3" y2="48.60"/>
<line x1="277.50" y1="142.8" x2="277.50" y2="145.0"/>
<line x1="333.50" y1="142.8" x2="333.50" y2="145.0"/>
<line x1="389.50" y1="142.8" x2="389.50" y2="145.0"/>
</g>
<text x="236.10" y="140.40" font-size="6.8" fill="#4d4d4d" text-anchor="end" font-weight="normal" >0</text>
<text x="236.10" y="110.60" font-size="6.8" fill="#4d4d4d" text-anchor="end" font-weight="normal" >1</text>
<text x="236.10" y="80.80" font-size="6.8" fill="#4d4d4d" text-anchor="end" font-weight="normal" >2</text>
<text x="236.10" y="51.00" font-size="6.8" fill="#4d4d4d" text-anchor="end" font-weight="normal" >3</text>
<text x="277.50" y="152.40" font-size="6.8" fill="#4d4d4d" text-anchor="middle" font-weight="normal" >-0.2</text>
<text x="333.50" y="152.40" font-size="6.8" fill="#4d4d4d" text-anchor="middle" font-weight="normal" >0.0</text>
<text x="389.50" y="152.40" font-size="6.8" fill="#4d4d4d" text-anchor="middle" font-weight="normal" >0.2</text>
<text x="333.65" y="161.40" font-size="6.9" fill="#2a2a2a" text-anchor="middle" font-weight="normal" >DSS1 change</text>
<text transform="translate(225.1,87.5) rotate(-90)" font-size="6.9" fill="#222" text-anchor="middle">− Log<tspan font-size="4.8" dy="1.6">10</tspan><tspan dy="-1.6"> </tspan><tspan font-style="italic">P</tspan></text>
<text x="428.00" y="170.50" font-size="5.3" fill="#222" text-anchor="end" font-weight="normal" >total = 333 variables</text>
<text x="325.00" y="6.10" font-size="8.1" fill="#111" text-anchor="middle" font-weight="bold" >KRAS_Targets</text>
<circle cx="262.0" cy="18.6" r="2.4" fill="#9e9e9e"/>
<text x="269.40" y="20.60" font-size="5.6" fill="#333" text-anchor="start" font-weight="normal" >NS</text>
<circle cx="284.7" cy="18.6" r="2.4" fill="#8ccf8c"/>
<text x="292.20" y="20.60" font-size="5.6" fill="#333" text-anchor="start" font-weight="normal" >Log<tspan font-size="3.8" dy="1">2</tspan><tspan dy="-1"> FC</tspan></text>
<circle cx="319.3" cy="18.6" r="2.4" fill="#a3b2e6"/>
<text x="326.50" y="20.60" font-size="5.6" fill="#333" text-anchor="start" font-weight="normal" >p-value</text>
<circle cx="352.0" cy="18.6" r="2.4" fill="#ef7b7b"/>
<text x="359.40" y="20.60" font-size="5.6" fill="#333" text-anchor="start" font-weight="normal" >p − value and log<tspan font-size="3.8" dy="1">2</tspan><tspan dy="-1"> FC</tspan></text>
<g stroke="#f3f3f3" stroke-width="0.5">
<line x1="472.95" y1="37.2" x2="472.95" y2="142.5"/>
<line x1="527.65" y1="37.2" x2="527.65" y2="142.5"/>
<line x1="582.35" y1="37.2" x2="582.35" y2="142.5"/>
<line x1="637.05" y1="37.2" x2="637.05" y2="142.5"/>
<line x1="464.7" y1="127.75" x2="645.7" y2="127.75"/>
<line x1="464.7" y1="107.25" x2="645.7" y2="107.25"/>
<line x1="464.7" y1="86.75" x2="645.7" y2="86.75"/>
<line x1="464.7" y1="66.25" x2="645.7" y2="66.25"/>
<line x1="464.7" y1="45.75" x2="645.7" y2="45.75"/>
</g>
<g stroke="#e6e6e6" stroke-width="0.6">
<line x1="500.30" y1="37.2" x2="500.30" y2="142.5"/>
<line x1="555.00" y1="37.2" x2="555.00" y2="142.5"/>
<line x1="609.70" y1="37.2" x2="609.70" y2="142.5"/>
<line x1="464.7" y1="138.00" x2="645.7" y2="138.00"/>
<line x1="464.7" y1="117.50" x2="645.7" y2="117.50"/>
<line x1="464.7" y1="97.00" x2="645.7" y2="97.00"/>
<line x1="464.7" y1="76.50" x2="645.7" y2="76.50"/>
<line x1="464.7" y1="56.00" x2="645.7" y2="56.00"/>
</g>
<g stroke="#444" stroke-width="0.6" stroke-dasharray="2.2,1.5">
<line x1="527.65" y1="37.2" x2="527.65" y2="142.5"/>
<line x1="582.35" y1="37.2" x2="582.35" y2="142.5"/>
<line x1="464.7" y1="84.70" x2="645.7" y2="84.70"/>
</g>
<g fill="#4a4a4a" fill-opacity="0.72">
<circle cx="556.7" cy="135.1" r="0.95"/>
<circle cx="557.6" cy="134.3" r="0.95"/>
<circle cx="555.0" cy="128.0" r="0.95"/>
<circle cx="557.7" cy="128.8" r="0.95"/>
<circle cx="554.6" cy="138.1" r="0.95"/>
<circle cx="550.1" cy="136.0" r="0.95"/>
<circle cx="552.7" cy="133.1" r="0.95"/>
<circle cx="550.1" cy="126.2" r="0.95"/>
<circle cx="557.3" cy="133.8" r="0.95"/>
<circle cx="559.7" cy="131.5" r="0.95"/>
<circle cx="553.9" cy="135.8" r="0.95"/>
<circle cx="558.5" cy="130.7" r="0.95"/>
<circle cx="553.4" cy="128.5" r="0.95"/>
<circle cx="558.3" cy="133.0" r="0.95"/>
<circle cx="557.5" cy="128.8" r="0.95"/>
<circle cx="557.0" cy="130.5" r="0.95"/>
<circle cx="554.4" cy="128.9" r="0.95"/>
<circle cx="554.3" cy="135.8" r="0.95"/>
<circle cx="554.1" cy="132.5" r="0.95"/>
<circle cx="556.4" cy="132.4" r="0.95"/>
<circle cx="556.4" cy="133.8" r="0.95"/>
<circle cx="557.5" cy="132.1" r="0.95"/>
<circle cx="555.5" cy="134.2" r="0.95"/>
<circle cx="559.5" cy="134.9" r="0.95"/>
<circle cx="551.9" cy="129.4" r="0.95"/>
<circle cx="554.9" cy="132.2" r="0.95"/>
<circle cx="552.6" cy="131.7" r="0.95"/>
<circle cx="557.3" cy="127.4" r="0.95"/>
<circle cx="555.9" cy="132.7" r="0.95"/>
<circle cx="559.5" cy="127.6" r="0.95"/>
<circle cx="556.3" cy="132.9" r="0.95"/>
<circle cx="555.4" cy="135.2" r="0.95"/>
<circle cx="560.7" cy="135.0" r="0.95"/>
<circle cx="556.6" cy="128.8" r="0.95"/>
<circle cx="556.9" cy="129.0" r="0.95"/>
<circle cx="554.7" cy="135.1" r="0.95"/>
<circle cx="559.1" cy="137.0" r="0.95"/>
<circle cx="555.7" cy="136.5" r="0.95"/>
<circle cx="554.5" cy="133.8" r="0.95"/>
<circle cx="554.9" cy="136.4" r="0.95"/>
<circle cx="554.4" cy="130.1" r="0.95"/>
<circle cx="549.1" cy="133.3" r="0.95"/>
<circle cx="554.4" cy="132.9" r="0.95"/>
<circle cx="552.3" cy="135.5" r="0.95"/>
<circle cx="555.4" cy="130.2" r="0.95"/>
<circle cx="554.0" cy="129.2" r="0.95"/>
<circle cx="559.7" cy="137.1" r="0.95"/>
<circle cx="555.1" cy="133.7" r="0.95"/>
<circle cx="555.3" cy="133.5" r="0.95"/>
<circle cx="551.5" cy="133.7" r="0.95"/>
<circle cx="555.6" cy="131.3" r="0.95"/>
<circle cx="552.2" cy="133.6" r="0.95"/>
<circle cx="556.1" cy="131.1" r="0.95"/>
<circle cx="557.3" cy="132.5" r="0.95"/>
<circle cx="556.0" cy="138.9" r="0.95"/>
<circle cx="553.6" cy="133.5" r="0.95"/>
<circle cx="554.2" cy="132.4" r="0.95"/>
<circle cx="556.1" cy="128.1" r="0.95"/>
<circle cx="556.0" cy="128.6" r="0.95"/>
<circle cx="553.1" cy="136.4" r="0.95"/>
<circle cx="550.0" cy="138.2" r="0.95"/>
<circle cx="560.4" cy="137.4" r="0.95"/>
<circle cx="557.0" cy="133.9" r="0.95"/>
<circle cx="552.1" cy="133.5" r="0.95"/>
<circle cx="556.6" cy="131.8" r="0.95"/>
<circle cx="551.4" cy="134.6" r="0.95"/>
<circle cx="555.1" cy="127.5" r="0.95"/>
<circle cx="553.3" cy="130.9" r="0.95"/>
<circle cx="554.2" cy="135.4" r="0.95"/>
<circle cx="557.4" cy="129.1" r="0.95"/>
<circle cx="554.9" cy="131.3" r="0.95"/>
<circle cx="550.2" cy="135.8" r="0.95"/>
<circle cx="553.6" cy="132.6" r="0.95"/>
<circle cx="548.9" cy="135.3" r="0.95"/>
<circle cx="555.1" cy="135.8" r="0.95"/>
<circle cx="553.5" cy="138.8" r="0.95"/>
<circle cx="556.0" cy="131.8" r="0.95"/>
<circle cx="556.3" cy="135.8" r="0.95"/>
<circle cx="553.3" cy="137.4" r="0.95"/>
<circle cx="556.4" cy="136.2" r="0.95"/>
<circle cx="554.8" cy="131.8" r="0.95"/>
<circle cx="556.4" cy="133.1" r="0.95"/>
<circle cx="556.4" cy="127.9" r="0.95"/>
<circle cx="553.2" cy="134.4" r="0.95"/>
<circle cx="554.1" cy="132.2" r="0.95"/>
<circle cx="555.8" cy="136.9" r="0.95"/>
<circle cx="558.0" cy="134.3" r="0.95"/>
<circle cx="556.2" cy="128.1" r="0.95"/>
<circle cx="550.8" cy="133.5" r="0.95"/>
<circle cx="553.4" cy="134.0" r="0.95"/>
<circle cx="552.6" cy="131.3" r="0.95"/>
<circle cx="554.6" cy="125.6" r="0.95"/>
<circle cx="551.5" cy="135.5" r="0.95"/>
<circle cx="555.0" cy="129.7" r="0.95"/>
<circle cx="558.8" cy="129.3" r="0.95"/>
<circle cx="553.2" cy="126.8" r="0.95"/>
<circle cx="553.2" cy="128.8" r="0.95"/>
<circle cx="552.5" cy="134.4" r="0.95"/>
<circle cx="554.1" cy="132.3" r="0.95"/>
<circle cx="550.4" cy="136.5" r="0.95"/>
<circle cx="553.1" cy="124.2" r="0.95"/>
<circle cx="551.5" cy="114.4" r="0.95"/>
<circle cx="550.5" cy="115.5" r="0.95"/>
<circle cx="552.1" cy="123.0" r="0.95"/>
<circle cx="556.0" cy="131.6" r="0.95"/>
<circle cx="559.1" cy="126.5" r="0.95"/>
<circle cx="536.9" cy="113.2" r="0.95"/>
<circle cx="556.7" cy="101.3" r="0.95"/>
<circle cx="559.9" cy="118.5" r="0.95"/>
<circle cx="557.4" cy="132.0" r="0.95"/>
<circle cx="560.8" cy="117.7" r="0.95"/>
<circle cx="559.1" cy="118.4" r="0.95"/>
<circle cx="549.8" cy="124.4" r="0.95"/>
<circle cx="554.7" cy="128.2" r="0.95"/>
<circle cx="543.8" cy="117.7" r="0.95"/>
<circle cx="565.8" cy="107.1" r="0.95"/>
<circle cx="549.7" cy="123.3" r="0.95"/>
<circle cx="564.7" cy="104.2" r="0.95"/>
<circle cx="554.7" cy="133.5" r="0.95"/>
<circle cx="557.1" cy="109.3" r="0.95"/>
<circle cx="561.8" cy="113.6" r="0.95"/>
<circle cx="555.6" cy="114.3" r="0.95"/>
<circle cx="553.2" cy="123.7" r="0.95"/>
<circle cx="560.2" cy="107.6" r="0.95"/>
<circle cx="558.9" cy="125.2" r="0.95"/>
<circle cx="551.3" cy="107.4" r="0.95"/>
<circle cx="553.4" cy="127.3" r="0.95"/>
<circle cx="558.9" cy="104.4" r="0.95"/>
<circle cx="556.6" cy="126.4" r="0.95"/>
<circle cx="547.1" cy="116.0" r="0.95"/>
<circle cx="557.0" cy="119.1" r="0.95"/>
<circle cx="572.9" cy="112.0" r="0.95"/>
<circle cx="558.4" cy="121.7" r="0.95"/>
<circle cx="545.0" cy="115.9" r="0.95"/>
<circle cx="551.3" cy="110.0" r="0.95"/>
<circle cx="554.6" cy="128.3" r="0.95"/>
<circle cx="558.3" cy="112.1" r="0.95"/>
<circle cx="550.7" cy="112.8" r="0.95"/>
<circle cx="550.5" cy="108.6" r="0.95"/>
<circle cx="557.9" cy="100.1" r="0.95"/>
<circle cx="554.5" cy="124.5" r="0.95"/>
<circle cx="560.5" cy="110.3" r="0.95"/>
<circle cx="547.5" cy="116.3" r="0.95"/>
<circle cx="557.6" cy="122.4" r="0.95"/>
<circle cx="567.3" cy="112.3" r="0.95"/>
<circle cx="546.7" cy="101.9" r="0.95"/>
<circle cx="558.9" cy="128.1" r="0.95"/>
<circle cx="546.2" cy="104.8" r="0.95"/>
<circle cx="554.7" cy="128.3" r="0.95"/>
<circle cx="553.7" cy="100.4" r="0.95"/>
<circle cx="554.4" cy="132.4" r="0.95"/>
<circle cx="549.1" cy="103.5" r="0.95"/>
<circle cx="556.6" cy="104.9" r="0.95"/>
<circle cx="567.2" cy="111.8" r="0.95"/>
<circle cx="567.9" cy="105.2" r="0.95"/>
<circle cx="546.2" cy="105.7" r="0.95"/>
<circle cx="552.2" cy="130.3" r="0.95"/>
<circle cx="550.5" cy="122.7" r="0.95"/>
<circle cx="555.9" cy="130.4" r="0.95"/>
<circle cx="539.3" cy="106.7" r="0.95"/>
<circle cx="548.7" cy="123.6" r="0.95"/>
<circle cx="553.0" cy="114.9" r="0.95"/>
<circle cx="553.4" cy="130.0" r="0.95"/>
<circle cx="552.8" cy="108.0" r="0.95"/>
<circle cx="551.9" cy="104.7" r="0.95"/>
<circle cx="555.1" cy="115.9" r="0.95"/>
<circle cx="544.5" cy="104.9" r="0.95"/>
<circle cx="555.3" cy="118.3" r="0.95"/>
<circle cx="559.5" cy="129.3" r="0.95"/>
<circle cx="555.5" cy="115.9" r="0.95"/>
<circle cx="550.0" cy="119.1" r="0.95"/>
<circle cx="543.7" cy="112.7" r="0.95"/>
<circle cx="557.5" cy="114.2" r="0.95"/>
<circle cx="554.6" cy="121.7" r="0.95"/>
<circle cx="561.0" cy="121.6" r="0.95"/>
<circle cx="556.0" cy="123.2" r="0.95"/>
<circle cx="552.7" cy="131.7" r="0.95"/>
<circle cx="568.8" cy="117.4" r="0.95"/>
<circle cx="556.2" cy="116.5" r="0.95"/>
<circle cx="554.4" cy="124.4" r="0.95"/>
<circle cx="550.2" cy="121.3" r="0.95"/>
<circle cx="566.6" cy="112.4" r="0.95"/>
<circle cx="545.0" cy="116.1" r="0.95"/>
<circle cx="552.7" cy="107.2" r="0.95"/>
<circle cx="548.0" cy="114.8" r="0.95"/>
<circle cx="556.6" cy="128.1" r="0.95"/>
<circle cx="558.6" cy="110.0" r="0.95"/>
<circle cx="549.9" cy="117.1" r="0.95"/>
<circle cx="533.9" cy="109.2" r="0.95"/>
<circle cx="554.5" cy="122.3" r="0.95"/>
<circle cx="553.7" cy="126.9" r="0.95"/>
<circle cx="560.7" cy="110.2" r="0.95"/>
<circle cx="549.3" cy="119.9" r="0.95"/>
<circle cx="542.0" cy="101.4" r="0.95"/>
<circle cx="558.4" cy="124.6" r="0.95"/>
<circle cx="546.9" cy="101.7" r="0.95"/>
<circle cx="559.9" cy="110.2" r="0.95"/>
<circle cx="555.0" cy="131.3" r="0.95"/>
<circle cx="550.5" cy="120.7" r="0.95"/>
<circle cx="552.2" cy="130.9" r="0.95"/>
<circle cx="550.2" cy="120.8" r="0.95"/>
<circle cx="551.4" cy="123.7" r="0.95"/>
<circle cx="553.6" cy="120.3" r="0.95"/>
<circle cx="552.4" cy="122.7" r="0.95"/>
<circle cx="555.2" cy="115.6" r="0.95"/>
<circle cx="551.0" cy="106.2" r="0.95"/>
<circle cx="558.4" cy="101.3" r="0.95"/>
<circle cx="545.7" cy="122.3" r="0.95"/>
<circle cx="560.3" cy="112.5" r="0.95"/>
<circle cx="547.0" cy="119.1" r="0.95"/>
<circle cx="552.3" cy="108.8" r="0.95"/>
<circle cx="562.3" cy="110.8" r="0.95"/>
<circle cx="545.8" cy="114.6" r="0.95"/>
<circle cx="537.3" cy="101.9" r="0.95"/>
<circle cx="557.5" cy="119.3" r="0.95"/>
<circle cx="555.3" cy="127.6" r="0.95"/>
<circle cx="559.7" cy="119.6" r="0.95"/>
<circle cx="549.6" cy="100.5" r="0.95"/>
<circle cx="541.8" cy="113.2" r="0.95"/>
<circle cx="553.4" cy="133.3" r="0.95"/>
<circle cx="552.7" cy="116.2" r="0.95"/>
<circle cx="556.1" cy="121.9" r="0.95"/>
<circle cx="555.9" cy="107.2" r="0.95"/>
<circle cx="556.5" cy="100.2" r="0.95"/>
<circle cx="562.5" cy="123.2" r="0.95"/>
<circle cx="572.0" cy="103.0" r="0.95"/>
<circle cx="555.3" cy="129.6" r="0.95"/>
<circle cx="555.5" cy="124.5" r="0.95"/>
<circle cx="554.5" cy="108.2" r="0.95"/>
<circle cx="548.7" cy="101.7" r="0.95"/>
<circle cx="553.6" cy="126.3" r="0.95"/>
<circle cx="548.2" cy="124.8" r="0.95"/>
<circle cx="544.7" cy="102.9" r="0.95"/>
<circle cx="548.1" cy="115.7" r="0.95"/>
<circle cx="554.9" cy="131.7" r="0.95"/>
<circle cx="564.5" cy="124.4" r="0.95"/>
<circle cx="569.7" cy="100.4" r="0.95"/>
<circle cx="555.4" cy="127.8" r="0.95"/>
<circle cx="549.2" cy="102.7" r="0.95"/>
<circle cx="568.1" cy="105.6" r="0.95"/>
<circle cx="554.2" cy="129.3" r="0.95"/>
<circle cx="555.2" cy="112.5" r="0.95"/>
<circle cx="548.1" cy="119.5" r="0.95"/>
<circle cx="560.0" cy="104.9" r="0.95"/>
<circle cx="552.2" cy="127.1" r="0.95"/>
<circle cx="559.9" cy="121.4" r="0.95"/>
<circle cx="546.5" cy="114.2" r="0.95"/>
<circle cx="556.8" cy="132.1" r="0.95"/>
<circle cx="552.7" cy="126.7" r="0.95"/>
<circle cx="551.7" cy="102.1" r="0.95"/>
<circle cx="574.7" cy="100.6" r="0.95"/>
<circle cx="562.7" cy="129.0" r="0.95"/>
<circle cx="574.9" cy="112.5" r="0.95"/>
<circle cx="546.7" cy="104.9" r="0.95"/>
<circle cx="578.0" cy="102.6" r="0.95"/>
<circle cx="567.0" cy="112.5" r="0.95"/>
<circle cx="578.4" cy="121.5" r="0.95"/>
<circle cx="545.3" cy="86.1" r="0.95"/>
<circle cx="544.2" cy="104.6" r="0.95"/>
<circle cx="561.7" cy="121.9" r="0.95"/>
<circle cx="577.9" cy="87.9" r="0.95"/>
<circle cx="575.0" cy="121.7" r="0.95"/>
<circle cx="576.8" cy="111.2" r="0.95"/>
<circle cx="544.8" cy="123.5" r="0.95"/>
<circle cx="573.6" cy="116.1" r="0.95"/>
<circle cx="579.3" cy="101.3" r="0.95"/>
<circle cx="534.6" cy="110.4" r="0.95"/>
<circle cx="573.1" cy="94.8" r="0.95"/>
<circle cx="570.5" cy="127.0" r="0.95"/>
<circle cx="542.6" cy="112.7" r="0.95"/>
<circle cx="566.6" cy="106.5" r="0.95"/>
<circle cx="541.2" cy="97.2" r="0.95"/>
<circle cx="570.6" cy="120.8" r="0.95"/>
<circle cx="554.8" cy="89.9" r="0.95"/>
<circle cx="573.6" cy="120.0" r="0.95"/>
<circle cx="542.6" cy="111.5" r="0.95"/>
<circle cx="578.4" cy="124.9" r="0.95"/>
<circle cx="558.2" cy="107.0" r="0.95"/>
<circle cx="561.8" cy="94.3" r="0.95"/>
<circle cx="540.4" cy="94.0" r="0.95"/>
<circle cx="567.9" cy="102.0" r="0.95"/>
<circle cx="560.5" cy="103.7" r="0.95"/>
<circle cx="557.9" cy="92.6" r="0.95"/>
<circle cx="532.4" cy="129.9" r="0.95"/>
<circle cx="550.2" cy="90.7" r="0.95"/>
<circle cx="564.2" cy="120.6" r="0.95"/>
<circle cx="538.4" cy="112.3" r="0.95"/>
<circle cx="548.6" cy="108.9" r="0.95"/>
<circle cx="531.1" cy="87.5" r="0.95"/>
<circle cx="556.3" cy="111.0" r="0.95"/>
<circle cx="554.0" cy="120.6" r="0.95"/>
<circle cx="537.7" cy="119.6" r="0.95"/>
<circle cx="556.6" cy="115.2" r="0.95"/>
<circle cx="561.0" cy="117.7" r="0.95"/>
<circle cx="560.2" cy="118.2" r="0.95"/>
<circle cx="556.4" cy="118.6" r="0.95"/>
<circle cx="564.7" cy="118.6" r="0.95"/>
<circle cx="561.1" cy="116.8" r="0.95"/>
<circle cx="571.6" cy="116.9" r="0.95"/>
<circle cx="564.9" cy="118.8" r="0.95"/>
<circle cx="551.8" cy="118.5" r="0.95"/>
<circle cx="561.0" cy="117.7" r="0.95"/>
<circle cx="544.5" cy="117.2" r="0.95"/>
<circle cx="566.5" cy="117.4" r="0.95"/>
<circle cx="548.2" cy="119.0" r="0.95"/>
<circle cx="566.2" cy="121.3" r="0.95"/>
<circle cx="560.7" cy="117.9" r="0.95"/>
<circle cx="561.0" cy="118.3" r="0.95"/>
<circle cx="544.7" cy="120.6" r="0.95"/>
<circle cx="567.6" cy="116.4" r="0.95"/>
<circle cx="568.4" cy="118.8" r="0.95"/>
<circle cx="552.1" cy="115.9" r="0.95"/>
<circle cx="557.7" cy="118.0" r="0.95"/>
<circle cx="563.2" cy="120.0" r="0.95"/>
<circle cx="566.2" cy="117.2" r="0.95"/>
</g>
<g fill="#5cb85c">
<circle cx="525.6" cy="98.4" r="1.1"/>
<circle cx="523.0" cy="114.3" r="1.1"/>
<circle cx="526.0" cy="113.1" r="1.1"/>
<circle cx="590.0" cy="113.1" r="1.1"/>
</g>
<g fill="#7b93d6">
<circle cx="536.0" cy="41.4" r="1.1"/>
<circle cx="549.2" cy="70.0" r="1.1"/>
<circle cx="540.7" cy="77.6" r="1.1"/>
<circle cx="541.4" cy="80.7" r="1.1"/>
<circle cx="574.1" cy="78.1" r="1.1"/>
<circle cx="582.1" cy="84.7" r="1.1"/>
</g>
<g fill="#e8403f">
<circle cx="519.4" cy="72.2" r="1.25"/>
</g>
<text x="511.80" y="78.10" font-size="5.7" fill="#222" text-anchor="start" font-weight="normal" >SN-38</text>
<path d="M464.7,37.2 V142.5 H645.7" stroke="#333" stroke-width="0.85" fill="none"/>
<g stroke="#333" stroke-width="0.6">
<line x1="462.5" y1="138.00" x2="464.7" y2="138.00"/>
<line x1="462.5" y1="117.50" x2="464.7" y2="117.50"/>
<line x1="462.5" y1="97.00" x2="464.7" y2="97.00"/>
<line x1="462.5" y1="76.50" x2="464.7" y2="76.50"/>
<line x1="462.5" y1="56.00" x2="464.7" y2="56.00"/>
<line x1="500.30" y1="142.5" x2="500.30" y2="144.7"/>
<line x1="555.00" y1="142.5" x2="555.00" y2="144.7"/>
<line x1="609.70" y1="142.5" x2="609.70" y2="144.7"/>
</g>
<text x="461.50" y="140.40" font-size="6.8" fill="#4d4d4d" text-anchor="end" font-weight="normal" >0.0</text>
<text x="461.50" y="119.90" font-size="6.8" fill="#4d4d4d" text-anchor="end" font-weight="normal" >0.5</text>
<text x="461.50" y="99.40" font-size="6.8" fill="#4d4d4d" text-anchor="end" font-weight="normal" >1.0</text>
<text x="461.50" y="78.90" font-size="6.8" fill="#4d4d4d" text-anchor="end" font-weight="normal" >1.5</text>
<text x="461.50" y="58.40" font-size="6.8" fill="#4d4d4d" text-anchor="end" font-weight="normal" >2.0</text>
<text x="500.30" y="152.10" font-size="6.8" fill="#4d4d4d" text-anchor="middle" font-weight="normal" >-0.2</text>
<text x="555.00" y="152.10" font-size="6.8" fill="#4d4d4d" text-anchor="middle" font-weight="normal" >0.0</text>
<text x="609.70" y="152.10" font-size="6.8" fill="#4d4d4d" text-anchor="middle" font-weight="normal" >0.2</text>
<text x="555.20" y="161.10" font-size="6.9" fill="#2a2a2a" text-anchor="middle" font-weight="normal" >DSS1 change</text>
<text transform="translate(445.2,88) rotate(-90)" font-size="6.9" fill="#222" text-anchor="middle">− Log<tspan font-size="4.8" dy="1.6">10</tspan><tspan dy="-1.6"> </tspan><tspan font-style="italic">P</tspan></text>
<text x="645.70" y="170.50" font-size="5.3" fill="#222" text-anchor="end" font-weight="normal" >total = 329 variables</text>
<text x="547.00" y="6.10" font-size="8.1" fill="#111" text-anchor="middle" font-weight="bold" >Hypoxia</text>
<circle cx="484.4" cy="19.4" r="2.4" fill="#9e9e9e"/>
<text x="491.80" y="21.40" font-size="5.6" fill="#333" text-anchor="start" font-weight="normal" >NS</text>
<circle cx="506.0" cy="19.4" r="2.4" fill="#8ccf8c"/>
<text x="513.50" y="21.40" font-size="5.6" fill="#333" text-anchor="start" font-weight="normal" >Log<tspan font-size="3.8" dy="1">2</tspan><tspan dy="-1"> FC</tspan></text>
<circle cx="541.3" cy="19.4" r="2.4" fill="#a3b2e6"/>
<text x="548.50" y="21.40" font-size="5.6" fill="#333" text-anchor="start" font-weight="normal" >p-value</text>
<circle cx="573.5" cy="19.4" r="2.4" fill="#ef7b7b"/>
<text x="580.90" y="21.40" font-size="5.6" fill="#333" text-anchor="start" font-weight="normal" >p − value and log<tspan font-size="3.8" dy="1">2</tspan><tspan dy="-1"> FC</tspan></text>
<g clip-path="url(#histclip)">
<rect x="20.8" y="184.8" width="123.4" height="100.6" fill="#cb8cc5"/>
<g filter="url(#blur2)">
<path d="M18,250 C28,246 40,242 50,244 C54,256 54,272 58,290 L18,290 Z" fill="#b676ba"/>
<ellipse cx="55" cy="258" rx="13" ry="15" fill="#b97bbb"/>
<ellipse cx="58" cy="212" rx="10" ry="16" fill="#c084c2"/>
<rect x="140.5" y="184" width="5" height="102" fill="#e2bce2" opacity="0.75"/>
<ellipse cx="125" cy="275" rx="18" ry="12" fill="#d6a2d4" opacity="0.55"/>
</g>
<rect x="20.8" y="184.8" width="123.4" height="100.6" filter="url(#hnoise)"/>
<rect x="20.8" y="184.8" width="123.4" height="100.6" filter="url(#hnoise2)" opacity="0.4"/>
<path d="M18,182 L44,182 C42,195 41,210 40,222 C39,232 35,238 31,244 C27,248 22,250 18,252 Z" fill="#dc84c4" opacity="0.45" filter="url(#blur2)"/>
<g filter="url(#blur05)">
<ellipse cx="36.3" cy="194" rx="3.5" ry="2" fill="#d66aa8" opacity="0.7"/>
<ellipse cx="37.8" cy="207.4" rx="3.6" ry="5" fill="#d86eac" opacity="0.7" transform="rotate(-20 37.8 207.4)"/>
<ellipse cx="44.9" cy="214.5" rx="3" ry="1.5" fill="#d470aa" opacity="0.7" transform="rotate(30 44.9 214.5)"/>
<ellipse cx="23.6" cy="212.4" rx="1.6" ry="3" fill="#ecb4d8" opacity="0.7"/>
<ellipse cx="22.6" cy="226" rx="1.4" ry="2.4" fill="#e8acd4" opacity="0.7"/>
<path d="M61.5,196.5 C59,194.8 55.2,195.6 55,199.6 C55,203 58.5,204.6 61.6,203" fill="none" stroke="#9a5aa8" stroke-width="1.1" opacity="0.7"/>
</g>
</g>
<path d="M37.7,238.3 C38,246 40,256 43.3,261.4 C46,265 53,269.5 58,269.5 C61.5,269.5 63.8,265 63.8,260 C63.8,255.5 61,251 60.3,247.5 C59.8,243 62.5,238.5 66,235.8 C68.5,234 69.5,231.5 67.1,231.1 C63.5,231.2 58,235 55,239 C52.5,243 51,248 51.2,252.5 C51.5,256.5 54.5,259.6 58.7,260.2 L58.7,262.8 C54,263.6 49.5,262 47,258 C45,254.5 45,249 43.6,245 C42.6,241.5 41.5,239 40.3,237.3 C39.5,236.5 38.2,236.8 37.7,238.3 Z" fill="none" stroke="#e4dc1c" stroke-width="1.35"/>
<path d="M41.9,269.5 C43,271 48,272.4 56.6,272.6 C61,272.5 63,270.4 66.4,269.8 C69,269 72,268.4 72,268.6 C75,268.8 76.5,269.6 77.6,270.5 C80,272 81.2,273.5 81.7,274.7 C82.6,277 83.3,279 83.1,280.2 C83,282 82.5,283 81.7,283.7 C70,284.6 62,284.6 58,284.4 C53,284.4 49,284.2 46.8,283.7 C45,282 44.4,281 44,279.5 C43.4,277.5 43,276 42.6,274 C42.2,272 41.8,270.6 41.9,269.5 Z" fill="none" stroke="#d99423" stroke-width="1.35"/>
<text x="41.90" y="236.20" font-size="6.6" fill="#dcd23c" text-anchor="start" font-weight="normal" >PAN</text>
<text x="67.60" y="277.40" font-size="6.6" fill="#c8882a" text-anchor="start" font-weight="normal" >CT</text>
<line x1="78" y1="243.6" x2="146" y2="217.8" stroke="#e4dc1c" stroke-width="1.4" stroke-dasharray="3.8,2.8"/>
<path d="M67.8,246 L75.5,239.7 L75.2,244.4 L79.7,248.1 Z" fill="#e4dc1c"/>
<path d="M155,215.6 L143.5,214.3 L147.9,218.0 L147.6,223.4 Z" fill="#e4dc1c"/>
<line x1="86" y1="274.5" x2="149" y2="263.4" stroke="#d99423" stroke-width="1.4" stroke-dasharray="3.8,2.8"/>
<path d="M78.3,275 L87.3,269.8 L85.6,274.5 L88.7,278.8 Z" fill="#d99423"/>
<path d="M156.8,262.3 L145.1,259.6 L148.9,263.8 L147.3,269.1 Z" fill="#d99423"/>
<text x="164.60" y="198.20" font-size="8.6" fill="#2aa8df" text-anchor="start" font-weight="normal" textLength="33.2" lengthAdjust="spacingAndGlyphs">0.2% O<tspan font-size="5.4" dy="0.3">2</tspan></text>
<text x="164.60" y="248.30" font-size="8.6" fill="#c4283a" text-anchor="start" font-weight="normal" textLength="31.6" lengthAdjust="spacingAndGlyphs">21% O<tspan font-size="5.4" dy="0.3">2</tspan></text>
<path d="M164.2,213.2 A15.4,4.6 0 0 0 195.0,213.2 V218.7 A15.4,5.4 0 0 1 164.2,218.7 Z" fill="#f3c3dd"/>
<ellipse cx="179.6" cy="213.39999999999998" rx="15.4" ry="4.6" fill="#f6d2e6"/>
<circle cx="177.6" cy="212.5" r="2.6" fill="#f9c59c" stroke="#f1a877" stroke-width="0.4"/>
<circle cx="171.2" cy="217.3" r="2.1" fill="#f9c59c" stroke="#f1a877" stroke-width="0.4"/>
<circle cx="179.4" cy="220.5" r="2.1" fill="#f9c59c" stroke="#f1a877" stroke-width="0.4"/>
<circle cx="185.2" cy="218.3" r="2.1" fill="#f9c59c" stroke="#f1a877" stroke-width="0.4"/>
<g fill="none" stroke="#4a4a4a" stroke-width="0.55"><ellipse cx="179.6" cy="207.2" rx="15.4" ry="5.2"/><path d="M164.2,207.2 V218.7 A15.4,5.4 0 0 0 195.0,218.7 V207.2"/><path d="M165.39999999999998,213.2 A14.200000000000001,4.4 0 0 0 193.8,213.2" stroke="#888" stroke-width="0.35"/></g>
<path d="M164.2,264.0 A15.4,4.6 0 0 0 195.0,264.0 V269.5 A15.4,5.4 0 0 1 164.2,269.5 Z" fill="#f3c3dd"/>
<ellipse cx="179.6" cy="264.2" rx="15.4" ry="4.6" fill="#f6d2e6"/>
<circle cx="173.3" cy="266.3" r="2.2" fill="#f9c59c" stroke="#f1a877" stroke-width="0.4"/>
<circle cx="180.9" cy="265.0" r="2.6" fill="#f9c59c" stroke="#f1a877" stroke-width="0.4"/>
<circle cx="178.1" cy="272.1" r="2.0" fill="#f9c59c" stroke="#f1a877" stroke-width="0.4"/>
<circle cx="188.4" cy="270.6" r="2.0" fill="#f9c59c" stroke="#f1a877" stroke-width="0.4"/>
<g fill="none" stroke="#4a4a4a" stroke-width="0.55"><ellipse cx="179.6" cy="258.0" rx="15.4" ry="5.2"/><path d="M164.2,258.0 V269.5 A15.4,5.4 0 0 0 195.0,269.5 V258.0"/><path d="M165.39999999999998,264.0 A14.200000000000001,4.4 0 0 0 193.8,264.0" stroke="#888" stroke-width="0.35"/></g>
<text x="200.60" y="213.60" font-size="7.5" fill="#222" text-anchor="start" font-weight="normal" textLength="61.2">Functional kinome</text>
<text x="217.60" y="223.10" font-size="7.5" fill="#222" text-anchor="start" font-weight="normal" textLength="27.6">profiling</text>
<line x1="201.9" y1="237.6" x2="257" y2="237.6" stroke="#111" stroke-width="0.9"/>
<path d="M261.6,237.6 L255.6,234.9 L256.6,237.6 L255.6,240.3 Z" fill="#111"/>
<text x="200.60" y="247.60" font-size="7.5" fill="#222" text-anchor="start" font-weight="normal" textLength="62.3">n=188 compounds</text>
<g stroke="#333" stroke-width="0.45">
<g transform="translate(250.6,227.9)"><path d="M-2.9,0 V-2.2 A2.9,2.9 0 0 1 2.9,-2.2 V0 Z" fill="#fff"/><path d="M-2.9,0 V2.2 A2.9,2.9 0 0 0 2.9,2.2 V0 Z" fill="#f1e62e"/></g>
<g transform="translate(255.2,221.6) rotate(-52)"><path d="M-2.9,0 V-2.2 A2.9,2.9 0 0 1 2.9,-2.2 V0 Z" fill="#2b7ec8"/><path d="M-2.9,0 V2.2 A2.9,2.9 0 0 0 2.9,2.2 V0 Z" fill="#fff"/></g>
<g transform="translate(261.8,227.4) rotate(35)"><path d="M-2.9,0 V-2.2 A2.9,2.9 0 0 1 2.9,-2.2 V0 Z" fill="#e42a35"/><path d="M-2.9,0 V2.2 A2.9,2.9 0 0 0 2.9,2.2 V0 Z" fill="#fff"/></g>
</g>
<text transform="translate(284.3,232.6) rotate(-90)" font-size="8" fill="#222" text-anchor="middle" textLength="36.8">Response</text>
<path d="M292.9,185.9 V286.4 H394.1" fill="none" stroke="#555" stroke-width="0.8"/>
<path d="M293.2,286.2 C294.3,286.0 297.5,285.9 300.0,285.0 C302.5,284.1 305.7,282.6 308.3,280.9 C310.9,279.1 313.1,277.1 315.5,274.5 C317.9,271.9 320.1,269.3 322.9,265.3 C325.6,261.3 329.4,255.0 332.0,250.7 C334.6,246.4 336.3,243.2 338.4,239.7 C340.5,236.2 342.5,232.6 344.8,229.7 C347.1,226.8 349.1,224.7 352.2,222.4 C355.2,220.1 359.2,217.5 363.1,216.0 C367.1,214.5 370.8,214.1 375.9,213.6 C381.0,213.1 391.0,213.2 394.0,213.1" fill="none" stroke="#45b5e4" stroke-width="1.0"/>
<path d="M293.2,286.3 C295.7,285.9 304.2,284.5 308.3,283.6 C312.4,282.8 314.9,282.2 318.0,281.2 C321.1,280.2 323.9,279.0 326.6,277.6 C329.4,276.2 332.1,274.8 334.5,273.0 C336.9,271.2 339.2,269.0 341.2,266.8 C343.1,264.6 344.7,262.2 346.2,259.8 C347.7,257.4 348.4,256.3 350.3,252.5 C352.2,248.7 355.7,240.7 357.6,236.8 C359.6,232.9 360.5,231.2 362.0,229.0 C363.5,226.8 365.1,224.9 366.8,223.3 C368.5,221.7 370.2,220.7 372.0,219.6 C373.8,218.5 375.6,217.7 377.8,216.9 C380.0,216.1 382.3,215.4 385.0,214.8 C387.7,214.2 392.5,213.8 394.0,213.6" fill="none" stroke="#d7285b" stroke-width="1.0"/>
<text x="315.00" y="228.60" font-size="7.0" fill="#3fb1e2" text-anchor="start" font-weight="normal" textLength="25" lengthAdjust="spacingAndGlyphs">0.2% O<tspan font-size="4.4" dy="0.2">2</tspan></text>
<text x="356.40" y="259.40" font-size="7.0" fill="#cf2c52" text-anchor="start" font-weight="normal" textLength="24" lengthAdjust="spacingAndGlyphs">21% O<tspan font-size="4.4" dy="0.2">2</tspan></text>
<text x="492.00" y="207.00" font-size="6.5" fill="#222" text-anchor="middle" font-weight="normal" >Oxygen levels for 72 hours</text>
<line x1="453" y1="209.3" x2="533" y2="209.3" stroke="#444" stroke-width="0.6"/>
<text x="465.00" y="218.20" font-size="6.5" fill="#222" text-anchor="middle" font-weight="normal" >21%</text>
<text x="491.50" y="218.20" font-size="6.5" fill="#222" text-anchor="middle" font-weight="normal" >5%</text>
<text x="520.00" y="218.20" font-size="6.5" fill="#222" text-anchor="middle" font-weight="normal" >0.2%</text>
<g filter="url(#blur05)">
<rect x="430.4" y="222.0" width="101.2" height="12.8" fill="#ebebeb"/>
<rect x="456" y="223.5" width="19" height="10" rx="2" fill="#dadada"/>
<rect x="483.5" y="223.5" width="19.5" height="10" rx="2" fill="#d8d8d8"/>
<rect x="484" y="223.8" width="19" height="2.2" fill="#c2c2c2"/>
<rect x="510" y="223.5" width="21" height="10" rx="2" fill="#d4d4d4"/>
<path d="M511.4,224.0 C515,223.6 520,224.0 523.4,224.8 L523.6,226.6 C519,226.4 515,226.4 511.6,226.2 Z" fill="#141414"/>
<path d="M522.5,225.6 C525,226.2 527,228.2 530,228.6" stroke="#222" stroke-width="1.3" fill="none"/>
<path d="M484,224.6 L502.6,224.6" stroke="#8a8a8a" stroke-width="1.2" fill="none"/>
<rect x="430.4" y="239.8" width="101.2" height="20" fill="#e8e8e8"/>
<rect x="455" y="241" width="21" height="15" rx="2.5" fill="#d2d2d2"/>
<rect x="481" y="241" width="21" height="15" rx="2.5" fill="#cccccc"/>
<rect x="506.5" y="240" width="24" height="16" rx="2.5" fill="#c0c0c0"/>
<path d="M432.6,246.6 C438,246.8 446,249.6 450.2,252.2 C452,254 452,258 450,259.4 C445,259 438,257 433.6,255 C431.8,253 431.6,248.5 432.6,246.6 Z" fill="#0d0d0d"/>
<path d="M455.4,244.8 Q465.3,244 475.2,244.8 L475.2,247.6 Q465.3,247 455.4,247.6 Z" fill="#7a7a7a"/>
<path d="M455.4,248.6 Q465.3,248 475.2,248.6 L475.2,253 Q465.3,253.6 455.4,253 Z" fill="#4e4e4e"/>
<path d="M481,244.6 Q491.2,243.8 501.4,244.6 L501.4,247.6 Q491.2,247 481,247.6 Z" fill="#5e5e5e"/>
<path d="M481,248.4 Q491.2,247.8 501.4,248.4 L501.4,253.2 Q491.2,253.8 481,253.2 Z" fill="#333"/>
<path d="M506.2,240.6 Q518.2,239.6 530.2,240.6 L530.2,253.6 Q518.2,254.6 506.2,253.6 Z" fill="#0e0e0e"/>
<path d="M506.2,247.2 Q518.2,246.4 530.2,247.2 L530.2,248.4 Q518.2,247.6 506.2,248.4 Z" fill="#4a4a4a"/>
<rect x="430.4" y="263.6" width="101.2" height="24.8" fill="#e8e8e8"/>
<rect x="454" y="265" width="23" height="21" rx="3" fill="#dcdcdc"/>
<rect x="480" y="265" width="23" height="21" rx="3" fill="#dcdcdc"/>
<rect x="505.5" y="264.5" width="25.5" height="21.5" rx="3" fill="#d8d8d8"/>
<path d="M432.6,270.4 C440,271.2 446,272.4 450.6,273.4 L450.6,277.6 C445,277 439,276 432.8,275.2 Z" fill="#111"/>
<path d="M432.8,277.8 C440,279.2 446,280.6 450.6,281.4 L450.6,285.8 C445,285.2 439,284 433,282.8 Z" fill="#111"/>
<path d="M455.0,274.59999999999997 Q455.0,272.2 457.2,273.4 L473.40000000000003,273.4 Q475.6,272.2 475.6,274.59999999999997 L475.6,281.2 Q475.6,283.59999999999997 473.40000000000003,282.4 L457.2,282.4 Q455.0,283.59999999999997 455.0,281.2 Z" fill="#101010"/>
<path d="M480.8,274.59999999999997 Q480.8,272.2 483.0,273.4 L500.2,273.4 Q502.4,272.2 502.4,274.59999999999997 L502.4,281.2 Q502.4,283.59999999999997 500.2,282.4 L483.0,282.4 Q480.8,283.59999999999997 480.8,281.2 Z" fill="#101010"/>
<path d="M506.4,273.8 Q506.4,271.40000000000003 508.59999999999997,272.6 L528.1999999999999,272.6 Q530.4,271.40000000000003 530.4,273.8 L530.4,280.8 Q530.4,283.2 528.1999999999999,282.0 L508.59999999999997,282.0 Q506.4,283.2 506.4,280.8 Z" fill="#0c0c0c"/>
<path d="M474.4,266.6 L476,266.6 L476.2,274 L474.2,274 Z M506.0,265.4 L507.8,265.4 L508,273 L506,273 Z" fill="#333"/>
</g>
<g fill="none" stroke="#444" stroke-width="0.8"><rect x="430.4" y="222.0" width="101.2" height="12.8"/><rect x="430.4" y="239.8" width="101.2" height="20"/><rect x="430.4" y="263.6" width="101.2" height="24.8"/></g>
<text x="427.20" y="230.40" font-size="6.3" fill="#222" text-anchor="end" font-weight="normal" >180</text>
<text x="427.20" y="252.60" font-size="6.3" fill="#222" text-anchor="end" font-weight="normal" >70</text>
<text x="427.20" y="272.40" font-size="6.3" fill="#222" text-anchor="end" font-weight="normal" >260</text>
<text x="427.20" y="284.00" font-size="6.3" fill="#222" text-anchor="end" font-weight="normal" >160</text>
<text x="534.80" y="230.40" font-size="6.5" fill="#222" text-anchor="start" font-weight="normal" >AKAP12</text>
<text x="534.80" y="251.00" font-size="6.5" fill="#222" text-anchor="start" font-weight="normal" >CA9</text>
<text x="536.20" y="276.60" font-size="6.5" fill="#222" text-anchor="start" font-weight="normal" >Vinculin</text>
<text x="631.20" y="198.60" font-size="9.6" fill="#222" text-anchor="middle" font-weight="normal" >AKAP12</text>
<g fill="none" stroke="#111" stroke-width="0.8"><path d="M589.2,207.6 V280.1 H684.6"/></g>
<g stroke="#111" stroke-width="0.6">
<line x1="587.2" y1="280.10" x2="589.2" y2="280.10"/>
<line x1="587.2" y1="265.64" x2="589.2" y2="265.64"/>
<line x1="587.2" y1="251.18" x2="589.2" y2="251.18"/>
<line x1="587.2" y1="236.72" x2="589.2" y2="236.72"/>
<line x1="587.2" y1="222.26" x2="589.2" y2="222.26"/>
<line x1="587.2" y1="207.80" x2="589.2" y2="207.80"/>
</g>
<text x="586.60" y="281.70" font-size="4.6" fill="#111" text-anchor="end" font-weight="bold" >0.0</text>
<text x="586.60" y="267.24" font-size="4.6" fill="#111" text-anchor="end" font-weight="bold" >0.5</text>
<text x="586.60" y="252.78" font-size="4.6" fill="#111" text-anchor="end" font-weight="bold" >1.0</text>
<text x="586.60" y="238.32" font-size="4.6" fill="#111" text-anchor="end" font-weight="bold" >1.5</text>
<text x="586.60" y="223.86" font-size="4.6" fill="#111" text-anchor="end" font-weight="bold" >2.0</text>
<text x="586.60" y="209.40" font-size="4.6" fill="#111" text-anchor="end" font-weight="bold" >2.5</text>
<rect x="599.2" y="256.24" width="18.40" height="23.86" fill="#7fc5e6" stroke="#111" stroke-width="0.8"/>
<g stroke="#111" stroke-width="0.7"><line x1="608.4000000000001" y1="260.15" x2="608.4000000000001" y2="252.34"/><line x1="604.0000000000001" y1="252.34" x2="612.8000000000001" y2="252.34"/><line x1="604.0000000000001" y1="260.15" x2="612.8000000000001" y2="260.15"/></g>
<rect x="627.4" y="251.18" width="19.00" height="28.92" fill="#d58cc2" stroke="#111" stroke-width="0.8"/>
<g stroke="#111" stroke-width="0.7"><line x1="636.9" y1="256.67" x2="636.9" y2="245.40"/><line x1="632.5" y1="245.40" x2="641.3" y2="245.40"/><line x1="632.5" y1="256.67" x2="641.3" y2="256.67"/></g>
<rect x="656.0" y="237.30" width="18.80" height="42.80" fill="#f39123" stroke="#111" stroke-width="0.8"/>
<g stroke="#111" stroke-width="0.7"><line x1="665.4" y1="244.53" x2="665.4" y2="229.78"/><line x1="661.0" y1="229.78" x2="669.8" y2="229.78"/><line x1="661.0" y1="244.53" x2="669.8" y2="244.53"/></g>
<circle cx="608.4" cy="246.4" r="1.6" fill="#111"/>
<circle cx="608.4" cy="252.7" r="1.6" fill="#111"/>
<circle cx="606.0" cy="264.3" r="1.6" fill="#111"/>
<circle cx="611.7" cy="262.3" r="1.6" fill="#111"/>
<rect x="635.7" y="237.9" width="3" height="3" fill="#111"/>
<rect x="635.7" y="244.5" width="3" height="3" fill="#111"/>
<rect x="635.7" y="251.2" width="3" height="3" fill="#111"/>
<rect x="635.7" y="263.9" width="3" height="3" fill="#111"/>
<path d="M665.6,214.4 L667.4,217.60000000000002 L663.8000000000001,217.60000000000002 Z" fill="#111"/>
<path d="M665.6,234.5 L667.4,237.70000000000002 L663.8000000000001,237.70000000000002 Z" fill="#111"/>
<path d="M665.6,242.0 L667.4,245.20000000000002 L663.8000000000001,245.20000000000002 Z" fill="#111"/>
<path d="M665.6,249.6 L667.4,252.8 L663.8000000000001,252.8 Z" fill="#111"/>
<text x="609.00" y="289.30" font-size="7.2" fill="#222" text-anchor="middle" font-weight="normal" >21%</text>
<text x="638.30" y="289.30" font-size="7.2" fill="#222" text-anchor="middle" font-weight="normal" >5%</text>
<text x="667.40" y="289.30" font-size="7.2" fill="#222" text-anchor="middle" font-weight="normal" >0.2%</text>
<text transform="translate(569.6,244.4) rotate(-90)" font-size="5.0" font-weight="bold" fill="#111" text-anchor="middle" textLength="19.4">Average:</text>
<text transform="translate(574.6,246.8) rotate(-90)" font-size="5.0" font-weight="bold" fill="#111" text-anchor="middle" textLength="69.6">Normalized Densitometry Ratio</text>
<text x="38.00" y="322.10" font-size="5.2" fill="#333" text-anchor="start" font-weight="normal" textLength="36.7" lengthAdjust="spacingAndGlyphs">Hypoxic response</text>
<text x="139.30" y="322.10" font-size="5.2" fill="#333" text-anchor="start" font-weight="normal" textLength="40.2" lengthAdjust="spacingAndGlyphs">Normoxic response</text>
<g stroke="#555" stroke-width="0.6"><line x1="14.1" y1="324.5" x2="104.4" y2="324.5"/><line x1="110.4" y1="324.5" x2="200.8" y2="324.5"/></g>
<circle cx="15.3" cy="329.6" r="2.1" fill="#e22a2a"/>
<text x="19.00" y="331.40" font-size="5.0" fill="#333" text-anchor="start" font-weight="normal" textLength="40.4" lengthAdjust="spacingAndGlyphs">AKT1, AKT2, PRKCH</text>
<circle cx="63.2" cy="329.6" r="2.1" fill="#3cba4a"/>
<text x="65.80" y="331.40" font-size="5.0" fill="#333" text-anchor="start" font-weight="normal" textLength="27.8" lengthAdjust="spacingAndGlyphs">CDK8, CDK19</text>
<circle cx="15.3" cy="335.2" r="2.1" fill="#0f6b34"/>
<text x="19.00" y="337.00" font-size="5.0" fill="#333" text-anchor="start" font-weight="normal" textLength="26.8" lengthAdjust="spacingAndGlyphs">CDK8, CDK19</text>
<circle cx="51.0" cy="335.2" r="2.1" fill="#2e2f9a"/>
<text x="53.00" y="337.00" font-size="5.0" fill="#333" text-anchor="start" font-weight="normal" textLength="17.7" lengthAdjust="spacingAndGlyphs">MAP2K1</text>
<circle cx="73.2" cy="335.2" r="2.1" fill="#8c1f6e"/>
<text x="76.30" y="337.00" font-size="5.0" fill="#333" text-anchor="start" font-weight="normal" textLength="17.7" lengthAdjust="spacingAndGlyphs">MAP2K5</text>
<circle cx="15.3" cy="340.8" r="2.1" fill="#8d5a32"/>
<text x="19.00" y="342.60" font-size="5.0" fill="#333" text-anchor="start" font-weight="normal" textLength="49.3" lengthAdjust="spacingAndGlyphs">MYLK2, MAPK15, CDKL2</text>
<circle cx="111.2" cy="329.8" r="2.1" fill="#f4a041"/>
<text x="114.80" y="331.60" font-size="5.0" fill="#333" text-anchor="start" font-weight="normal" textLength="82.4" lengthAdjust="spacingAndGlyphs">ACVR1B, TGFBR1, PRKD1, PRKD2, PRKD3</text>
<circle cx="111.2" cy="335.2" r="2.1" fill="#f4d21a"/>
<text x="114.80" y="337.00" font-size="5.0" fill="#333" text-anchor="start" font-weight="normal" textLength="30.2" lengthAdjust="spacingAndGlyphs">PRKD1, PRKD2</text>
<circle cx="149.5" cy="335.2" r="2.1" fill="#8a2aa0"/>
<text x="152.20" y="337.00" font-size="5.0" fill="#333" text-anchor="start" font-weight="normal" textLength="40.8" lengthAdjust="spacingAndGlyphs">GSK3B, CLK2, HIPK1</text>
<circle cx="111.2" cy="340.4" r="2.1" fill="#e83c8a"/>
<text x="114.80" y="342.20" font-size="5.0" fill="#333" text-anchor="start" font-weight="normal" textLength="89.2" lengthAdjust="spacingAndGlyphs">ALK, CLK2, CLK1, FER, FES, IGF1R, IRR, MYLK</text>
<circle cx="111.2" cy="345.6" r="2.1" fill="#6d6d6d"/>
<text x="114.80" y="347.40" font-size="5.0" fill="#333" text-anchor="start" font-weight="normal" textLength="17.0" lengthAdjust="spacingAndGlyphs">PDGFRB</text>
<path d="M48.6,350.6 V441.6 H180.4" fill="none" stroke="#333" stroke-width="0.6"/>
<g stroke="#333" stroke-width="0.5">
<line x1="46.8" y1="361.50" x2="48.6" y2="361.50"/>
<line x1="46.8" y1="379.30" x2="48.6" y2="379.30"/>
<line x1="46.8" y1="397.10" x2="48.6" y2="397.10"/>
<line x1="46.8" y1="414.90" x2="48.6" y2="414.90"/>
<line x1="46.8" y1="432.70" x2="48.6" y2="432.70"/>
<line x1="50.20" y1="441.6" x2="50.20" y2="443.2"/>
<line x1="82.33" y1="441.6" x2="82.33" y2="443.2"/>
<line x1="114.45" y1="441.6" x2="114.45" y2="443.2"/>
<line x1="146.58" y1="441.6" x2="146.58" y2="443.2"/>
<line x1="178.70" y1="441.6" x2="178.70" y2="443.2"/>
</g>
<text x="46.20" y="363.30" font-size="5.0" fill="#333" text-anchor="end" font-weight="normal" >1</text>
<text x="46.20" y="381.10" font-size="5.0" fill="#333" text-anchor="end" font-weight="normal" >0.5</text>
<text x="46.20" y="398.90" font-size="5.0" fill="#333" text-anchor="end" font-weight="normal" >0</text>
<text x="46.20" y="416.70" font-size="5.0" fill="#333" text-anchor="end" font-weight="normal" >-0.5</text>
<text x="46.20" y="434.50" font-size="5.0" fill="#333" text-anchor="end" font-weight="normal" >-1</text>
<text x="50.20" y="449.00" font-size="5.0" fill="#333" text-anchor="middle" font-weight="normal" >0</text>
<text x="82.33" y="449.00" font-size="5.0" fill="#333" text-anchor="middle" font-weight="normal" >0.35</text>
<text x="114.45" y="449.00" font-size="5.0" fill="#333" text-anchor="middle" font-weight="normal" >0.7</text>
<text x="146.58" y="449.00" font-size="5.0" fill="#333" text-anchor="middle" font-weight="normal" >1.05</text>
<text x="178.70" y="449.00" font-size="5.0" fill="#333" text-anchor="middle" font-weight="normal" >1.4</text>
<line x1="48.6" y1="397.1" x2="181" y2="397.1" stroke="#aaa" stroke-width="0.55" stroke-dasharray="2,1.6"/>
<g fill="#6f9fca" stroke="#5d8fbd" stroke-width="0.3">
<circle cx="50.9" cy="396.7" r="2.0"/>
<circle cx="53.1" cy="397.8" r="2.0"/>
<circle cx="54.2" cy="395.7" r="2.0"/>
<circle cx="58.6" cy="396.1" r="2.0"/>
<circle cx="52" cy="398.9" r="2.0"/>
<circle cx="60.8" cy="400" r="2.0"/>
<circle cx="63" cy="405.5" r="2.0"/>
<circle cx="65.2" cy="401.1" r="2.0"/>
<circle cx="67.4" cy="402.2" r="2.0"/>
<circle cx="70.7" cy="402.2" r="2.0"/>
<circle cx="67.8" cy="409.9" r="2.0"/>
<circle cx="70.7" cy="406.6" r="2.0"/>
<circle cx="71.8" cy="408.4" r="2.0"/>
<circle cx="71.3" cy="389.1" r="2.0"/>
<circle cx="81" cy="392.8" r="2.0"/>
<circle cx="81" cy="408.1" r="2.0"/>
<circle cx="84.4" cy="411.6" r="2.0"/>
<circle cx="87.1" cy="392.4" r="2.0"/>
<circle cx="86" cy="399.4" r="2.0"/>
<circle cx="89.3" cy="394.6" r="2.0"/>
<circle cx="89.3" cy="411" r="2.0"/>
<circle cx="91" cy="409.9" r="2.0"/>
<circle cx="95.2" cy="402.9" r="2.0"/>
<circle cx="97" cy="397.4" r="2.0"/>
<circle cx="99.1" cy="392.4" r="2.0"/>
<circle cx="100.9" cy="388" r="2.0"/>
<circle cx="102.4" cy="391.3" r="2.0"/>
<circle cx="100.2" cy="400" r="2.0"/>
<circle cx="100.2" cy="407.7" r="2.0"/>
<circle cx="102.4" cy="406.6" r="2.0"/>
<circle cx="105.3" cy="409.9" r="2.0"/>
<circle cx="106.8" cy="411.6" r="2.0"/>
<circle cx="107.9" cy="391.9" r="2.0"/>
<circle cx="109" cy="399.4" r="2.0"/>
<circle cx="111.8" cy="392.4" r="2.0"/>
<circle cx="112.3" cy="397.8" r="2.0"/>
<circle cx="111.2" cy="404" r="2.0"/>
<circle cx="112.3" cy="406.6" r="2.0"/>
<circle cx="113.4" cy="401.1" r="2.0"/>
<circle cx="114.4" cy="393.5" r="2.0"/>
<circle cx="117.1" cy="397.8" r="2.0"/>
<circle cx="117.7" cy="402.2" r="2.0"/>
<circle cx="119.9" cy="391.9" r="2.0"/>
<circle cx="121" cy="396.7" r="2.0"/>
<circle cx="121.4" cy="401.1" r="2.0"/>
<circle cx="123.2" cy="403.3" r="2.0"/>
<circle cx="125.4" cy="406.6" r="2.0"/>
<circle cx="124.3" cy="393.5" r="2.0"/>
<circle cx="126.5" cy="397.8" r="2.0"/>
<circle cx="127.6" cy="402.2" r="2.0"/>
<circle cx="129.3" cy="394.6" r="2.0"/>
<circle cx="130.9" cy="406.6" r="2.0"/>
<circle cx="132" cy="391.3" r="2.0"/>
<circle cx="133" cy="389.1" r="2.0"/>
<circle cx="134.2" cy="395.7" r="2.0"/>
<circle cx="134.2" cy="400" r="2.0"/>
<circle cx="136.3" cy="393.5" r="2.0"/>
<circle cx="137.9" cy="404.4" r="2.0"/>
<circle cx="138.5" cy="391.3" r="2.0"/>
<circle cx="139.6" cy="397.8" r="2.0"/>
<circle cx="140.7" cy="401.1" r="2.0"/>
<circle cx="142.5" cy="394.6" r="2.0"/>
<circle cx="142.9" cy="391.3" r="2.0"/>
<circle cx="144" cy="400" r="2.0"/>
<circle cx="144.7" cy="404.4" r="2.0"/>
<circle cx="146.2" cy="396.7" r="2.0"/>
<circle cx="147.3" cy="389.5" r="2.0"/>
<circle cx="148.4" cy="393.5" r="2.0"/>
<circle cx="148.8" cy="413.2" r="2.0"/>
<circle cx="150.6" cy="397.8" r="2.0"/>
<circle cx="150.6" cy="394.6" r="2.0"/>
<circle cx="153.9" cy="404.4" r="2.0"/>
<circle cx="156" cy="403.3" r="2.0"/>
<circle cx="157.1" cy="398.5" r="2.0"/>
<circle cx="158.2" cy="412.7" r="2.0"/>
<circle cx="162" cy="413.8" r="2.0"/>
<circle cx="168.7" cy="410.5" r="2.0"/>
<circle cx="56.5" cy="397.5" r="2.0"/>
<circle cx="61.5" cy="398.6" r="2.0"/>
<circle cx="131" cy="397" r="2.0"/>
<circle cx="135" cy="398.5" r="2.0"/>
<circle cx="137" cy="396" r="2.0"/>
<circle cx="141" cy="395.5" r="2.0"/>
<circle cx="143.5" cy="397.5" r="2.0"/>
<circle cx="145.5" cy="399" r="2.0"/>
<circle cx="147" cy="395" r="2.0"/>
<circle cx="149" cy="398.5" r="2.0"/>
<circle cx="151.5" cy="396.5" r="2.0"/>
<circle cx="128" cy="399.5" r="2.0"/>
<circle cx="125.8" cy="399.8" r="2.0"/>
<circle cx="130.3" cy="392.6" r="2.0"/>
<circle cx="134.6" cy="391.9" r="2.0"/>
<circle cx="139" cy="393.8" r="2.0"/>
<circle cx="143.8" cy="393.2" r="2.0"/>
<circle cx="136.5" cy="402.5" r="2.0"/>
<circle cx="140.5" cy="404" r="2.0"/>
<circle cx="133" cy="403.5" r="2.0"/>
<circle cx="131.5" cy="401" r="2.0"/>
<circle cx="127" cy="395.5" r="2.0"/>
<circle cx="120" cy="398.8" r="2.0"/>
<circle cx="118.5" cy="394.5" r="2.0"/>
<circle cx="115.5" cy="396" r="2.0"/>
<circle cx="108.5" cy="395.5" r="2.0"/>
<circle cx="106" cy="398" r="2.0"/>
<circle cx="103.5" cy="399.5" r="2.0"/>
<circle cx="148" cy="401.5" r="2.0"/>
<circle cx="152.5" cy="400.8" r="2.0"/>
<circle cx="146" cy="391.5" r="2.0"/>
<circle cx="141.7" cy="389.3" r="2.0"/>
<circle cx="137.2" cy="389.8" r="2.0"/>
</g>
<circle cx="85.3" cy="386" r="2.0" fill="#2e2f9a"/>
<circle cx="91.9" cy="378.8" r="2.0" fill="#8c1f6e"/>
<circle cx="109.2" cy="378.6" r="2.0" fill="#e22a2a"/>
<circle cx="107.9" cy="383.8" r="2.0" fill="#0f6b34"/>
<circle cx="115.1" cy="382.5" r="2.0" fill="#3cba4a"/>
<circle cx="126.7" cy="384" r="2.0" fill="#8d5a32"/>
<circle cx="115.3" cy="415.8" r="2.0" fill="#8a2aa0"/>
<circle cx="81.6" cy="420.6" r="2.0" fill="#e83c8a"/>
<circle cx="94.3" cy="426.1" r="2.0" fill="#6d6d6d"/>
<circle cx="122.5" cy="432.2" r="2.0" fill="#f4a041"/>
<circle cx="110.1" cy="436" r="2.0" fill="#f4d21a"/>
<line x1="34.6" y1="355.5" x2="34.6" y2="388" stroke="#3db37a" stroke-width="0.7"/>
<path d="M34.6,352.8 L32.9,356.6 L36.3,356.6 Z" fill="#3db37a"/>
<line x1="34.6" y1="406.2" x2="34.6" y2="438.4" stroke="#d2334a" stroke-width="0.7"/>
<path d="M34.6,441.2 L32.9,437.4 L36.3,437.4 Z" fill="#d2334a"/>
<text transform="translate(24.8,399.8) rotate(-90)" font-size="6.0" fill="#222" text-anchor="middle">Differential viability</text>
<text transform="translate(31.0,370.8) rotate(-90)" font-size="6.0" fill="#222" text-anchor="middle">Effect in hypoxia</text>
<text transform="translate(31.0,422.4) rotate(-90)" font-size="6.0" fill="#222" text-anchor="middle">Effect in normoxia</text>
<line x1="54" y1="453" x2="175" y2="453" stroke="#3fb6e0" stroke-width="0.8"/>
<path d="M51,453 L55.2,451 L55.2,455 Z M178.7,453 L174.5,451 L174.5,455 Z" fill="#3fb6e0"/>
<text x="111.00" y="461.60" font-size="6.2" fill="#222" text-anchor="middle" font-weight="normal" textLength="83" lengthAdjust="spacingAndGlyphs">Viability (Drug/Vehicle control)</text>
<g stroke="#333" stroke-width="0.6"><line x1="237.4" y1="324.4" x2="250.8" y2="324.4"/><line x1="349" y1="324.4" x2="363" y2="324.4"/></g>
<text x="255.70" y="326.40" font-size="6.3" fill="#222" text-anchor="start" font-weight="normal" textLength="91.1" lengthAdjust="spacingAndGlyphs">GSK1398477-PDGFRB Inhibitor</text>
<text x="268.00" y="338.60" font-size="7.0" fill="#222" text-anchor="middle" font-weight="normal" >Normoxia</text>
<text x="332.80" y="338.60" font-size="7.0" fill="#222" text-anchor="middle" font-weight="normal" >Hypoxia</text>
<text transform="translate(232.9,368.7) rotate(-90)" font-size="7.4" fill="#222" text-anchor="middle">Replicate 1</text>
<text transform="translate(232.9,423.4) rotate(-90)" font-size="7.4" fill="#222" text-anchor="middle">Replicate 2</text>
<clipPath id="mc1"><rect x="237.0" y="341.0" width="61.8" height="52.4"/></clipPath>
<g clip-path="url(#mc1)">
<rect x="237.0" y="341.0" width="61.8" height="52.4" fill="#cfcfcf"/>
<g filter="url(#mblur)">
<ellipse cx="272" cy="361" rx="30" ry="21" fill="#e9e9e9"/>
<ellipse cx="280" cy="356" rx="18" ry="12" fill="#efefef"/>
</g>
<g fill="#606060">
<circle cx="265.1" cy="370.1" r="0.5" fill-opacity="0.41"/>
<circle cx="288.4" cy="352.2" r="0.5" fill-opacity="0.47"/>
<circle cx="284.8" cy="347.6" r="0.4" fill-opacity="0.30"/>
<circle cx="270.1" cy="386.1" r="0.3" fill-opacity="0.46"/>
<circle cx="261.9" cy="364.9" r="0.35" fill-opacity="0.47"/>
<circle cx="287.1" cy="346.1" r="0.3" fill-opacity="0.32"/>
<circle cx="253.0" cy="344.5" r="0.5" fill-opacity="0.36"/>
<circle cx="273.2" cy="352.5" r="0.35" fill-opacity="0.47"/>
<circle cx="267.9" cy="375.1" r="0.5" fill-opacity="0.48"/>
<circle cx="262.5" cy="369.7" r="0.3" fill-opacity="0.50"/>
<circle cx="257.2" cy="354.1" r="0.4" fill-opacity="0.26"/>
<circle cx="271.5" cy="348.2" r="0.3" fill-opacity="0.55"/>
<circle cx="261.3" cy="389.4" r="0.3" fill-opacity="0.32"/>
<circle cx="292.6" cy="345.5" r="0.5" fill-opacity="0.59"/>
<circle cx="262.0" cy="346.5" r="0.35" fill-opacity="0.52"/>
<circle cx="254.6" cy="347.2" r="0.4" fill-opacity="0.26"/>
<circle cx="262.7" cy="387.7" r="0.35" fill-opacity="0.34"/>
<circle cx="244.8" cy="345.9" r="0.5" fill-opacity="0.31"/>
<circle cx="271.3" cy="364.7" r="0.35" fill-opacity="0.59"/>
<circle cx="283.5" cy="363.3" r="0.5" fill-opacity="0.29"/>
<circle cx="263.3" cy="353.3" r="0.4" fill-opacity="0.55"/>
<circle cx="295.3" cy="371.7" r="0.3" fill-opacity="0.32"/>
<circle cx="261.8" cy="384.4" r="0.3" fill-opacity="0.26"/>
<circle cx="247.5" cy="364.4" r="0.3" fill-opacity="0.52"/>
<circle cx="258.0" cy="357.3" r="0.3" fill-opacity="0.28"/>
<circle cx="251.1" cy="373.8" r="0.3" fill-opacity="0.46"/>
<circle cx="260.5" cy="364.9" r="0.5" fill-opacity="0.54"/>
<circle cx="246.8" cy="361.7" r="0.35" fill-opacity="0.36"/>
<circle cx="252.2" cy="372.5" r="0.35" fill-opacity="0.31"/>
<circle cx="275.4" cy="369.8" r="0.5" fill-opacity="0.56"/>
<circle cx="273.9" cy="363.4" r="0.3" fill-opacity="0.29"/>
<circle cx="268.6" cy="355.4" r="0.5" fill-opacity="0.34"/>
<circle cx="286.6" cy="371.9" r="0.4" fill-opacity="0.43"/>
<circle cx="292.7" cy="390.3" r="0.35" fill-opacity="0.33"/>
<circle cx="271.3" cy="384.3" r="0.3" fill-opacity="0.35"/>
<circle cx="292.0" cy="352.9" r="0.3" fill-opacity="0.27"/>
<circle cx="262.8" cy="355.1" r="0.3" fill-opacity="0.31"/>
<circle cx="260.3" cy="370.7" r="0.35" fill-opacity="0.28"/>
<circle cx="247.0" cy="364.8" r="0.4" fill-opacity="0.48"/>
<circle cx="279.0" cy="371.3" r="0.35" fill-opacity="0.46"/>
<circle cx="292.4" cy="366.0" r="0.4" fill-opacity="0.50"/>
<circle cx="294.6" cy="344.0" r="0.3" fill-opacity="0.42"/>
<circle cx="281.2" cy="358.4" r="0.3" fill-opacity="0.28"/>
<circle cx="270.6" cy="378.7" r="0.35" fill-opacity="0.53"/>
<circle cx="291.9" cy="360.0" r="0.5" fill-opacity="0.57"/>
<circle cx="289.3" cy="363.2" r="0.3" fill-opacity="0.55"/>
<circle cx="272.1" cy="373.2" r="0.5" fill-opacity="0.38"/>
<circle cx="239.7" cy="346.5" r="0.3" fill-opacity="0.47"/>
<circle cx="296.4" cy="385.6" r="0.4" fill-opacity="0.39"/>
<circle cx="281.5" cy="371.1" r="0.5" fill-opacity="0.41"/>
<circle cx="270.3" cy="368.1" r="0.3" fill-opacity="0.36"/>
<circle cx="244.1" cy="344.1" r="0.3" fill-opacity="0.42"/>
<circle cx="274.5" cy="387.6" r="0.4" fill-opacity="0.56"/>
<circle cx="260.3" cy="349.9" r="0.35" fill-opacity="0.43"/>
<circle cx="282.6" cy="359.6" r="0.5" fill-opacity="0.42"/>
<circle cx="253.0" cy="362.6" r="0.4" fill-opacity="0.32"/>
<circle cx="263.9" cy="382.0" r="0.35" fill-opacity="0.56"/>
<circle cx="261.2" cy="371.2" r="0.4" fill-opacity="0.32"/>
<circle cx="246.8" cy="360.0" r="0.3" fill-opacity="0.50"/>
<circle cx="293.9" cy="356.4" r="0.35" fill-opacity="0.29"/>
</g>
<g fill="#8a8a8a" filter="url(#blur03)">
</g>
</g>
<rect x="237.0" y="341.0" width="61.8" height="52.4" fill="none" stroke="#555" stroke-width="0.8"/>
<clipPath id="mc2"><rect x="301.7" y="341.0" width="61.6" height="52.4"/></clipPath>
<g clip-path="url(#mc2)">
<rect x="301.7" y="341.0" width="61.6" height="52.4" fill="#cbcbcb"/>
<g filter="url(#mblur)">
<ellipse cx="338" cy="366" rx="28" ry="20" fill="#e8e8e8"/>
<ellipse cx="346" cy="362" rx="16" ry="12" fill="#eeeeee"/>
</g>
<g fill="#606060">
<circle cx="331.0" cy="374.8" r="0.4" fill-opacity="0.30"/>
<circle cx="304.3" cy="361.1" r="0.4" fill-opacity="0.48"/>
<circle cx="330.2" cy="384.8" r="0.35" fill-opacity="0.45"/>
<circle cx="341.8" cy="350.0" r="0.5" fill-opacity="0.38"/>
<circle cx="323.3" cy="353.2" r="0.35" fill-opacity="0.28"/>
<circle cx="343.3" cy="359.3" r="0.5" fill-opacity="0.53"/>
<circle cx="308.7" cy="387.5" r="0.35" fill-opacity="0.28"/>
<circle cx="360.6" cy="388.8" r="0.3" fill-opacity="0.48"/>
<circle cx="359.6" cy="369.1" r="0.35" fill-opacity="0.59"/>
<circle cx="354.7" cy="369.9" r="0.3" fill-opacity="0.39"/>
<circle cx="327.8" cy="371.8" r="0.5" fill-opacity="0.46"/>
<circle cx="334.9" cy="374.0" r="0.3" fill-opacity="0.59"/>
<circle cx="359.9" cy="375.1" r="0.4" fill-opacity="0.58"/>
<circle cx="353.6" cy="361.7" r="0.4" fill-opacity="0.29"/>
<circle cx="317.2" cy="360.6" r="0.35" fill-opacity="0.26"/>
<circle cx="351.1" cy="363.8" r="0.3" fill-opacity="0.33"/>
<circle cx="328.3" cy="361.8" r="0.3" fill-opacity="0.51"/>
<circle cx="316.4" cy="346.8" r="0.4" fill-opacity="0.26"/>
<circle cx="319.6" cy="359.7" r="0.3" fill-opacity="0.43"/>
<circle cx="324.9" cy="359.4" r="0.5" fill-opacity="0.42"/>
<circle cx="358.9" cy="366.3" r="0.35" fill-opacity="0.41"/>
<circle cx="335.3" cy="351.8" r="0.35" fill-opacity="0.57"/>
<circle cx="304.1" cy="356.0" r="0.4" fill-opacity="0.31"/>
<circle cx="349.5" cy="367.3" r="0.35" fill-opacity="0.47"/>
<circle cx="360.4" cy="391.3" r="0.35" fill-opacity="0.26"/>
<circle cx="322.3" cy="381.1" r="0.4" fill-opacity="0.47"/>
<circle cx="316.9" cy="368.5" r="0.5" fill-opacity="0.42"/>
<circle cx="324.1" cy="376.1" r="0.5" fill-opacity="0.56"/>
<circle cx="313.0" cy="357.1" r="0.3" fill-opacity="0.35"/>
<circle cx="358.1" cy="367.9" r="0.5" fill-opacity="0.50"/>
<circle cx="316.0" cy="356.8" r="0.4" fill-opacity="0.26"/>
<circle cx="303.9" cy="344.3" r="0.4" fill-opacity="0.40"/>
<circle cx="317.6" cy="364.1" r="0.3" fill-opacity="0.45"/>
<circle cx="339.7" cy="387.5" r="0.4" fill-opacity="0.52"/>
<circle cx="327.8" cy="371.5" r="0.5" fill-opacity="0.53"/>
</g>
<g fill="#8a8a8a" filter="url(#blur03)">
<circle cx="308" cy="348" r="1.2"/>
<circle cx="321.5" cy="354.4" r="1.3"/>
<circle cx="344.3" cy="351.2" r="1.2"/>
<circle cx="344" cy="354.8" r="1.1"/>
<circle cx="324.2" cy="361.9" r="1.3"/>
<circle cx="334.9" cy="362.5" r="1.0"/>
<circle cx="311.8" cy="362.7" r="1.0"/>
<circle cx="329" cy="366" r="0.9"/>
<circle cx="353" cy="356" r="1.0"/>
<circle cx="350.6" cy="372.2" r="1.4"/>
<circle cx="336.4" cy="373.7" r="1.3"/>
<circle cx="319.1" cy="375.5" r="1.3"/>
<circle cx="316" cy="371.3" r="0.8"/>
<circle cx="339.6" cy="360.7" r="0.7"/>
<circle cx="355.6" cy="371.3" r="0.8"/>
<circle cx="357.9" cy="377.8" r="0.7"/>
<circle cx="344.9" cy="379" r="0.7"/>
<circle cx="307.1" cy="381.4" r="0.8"/>
<circle cx="331.3" cy="382.6" r="0.8"/>
<circle cx="351.4" cy="381.4" r="0.7"/>
<circle cx="359.1" cy="363" r="0.7"/>
<circle cx="357.9" cy="384.3" r="0.7"/>
<circle cx="340.8" cy="385.5" r="0.7"/>
<circle cx="303.5" cy="392" r="0.9"/>
</g>
</g>
<rect x="301.7" y="341.0" width="61.6" height="52.4" fill="none" stroke="#555" stroke-width="0.8"/>
<clipPath id="mc3"><rect x="237.0" y="395.8" width="61.8" height="52.4"/></clipPath>
<g clip-path="url(#mc3)">
<rect x="237.0" y="395.8" width="61.8" height="52.4" fill="#c2c2c2"/>
<g filter="url(#mblur)">
<ellipse cx="240" cy="396" rx="18" ry="12" fill="#a0a0a0"/>
<ellipse cx="273.7" cy="420.5" rx="29" ry="17" fill="#eaeaea"/>
<ellipse cx="276" cy="418" rx="17" ry="9" fill="#f0f0f0"/>
</g>
<g fill="#606060">
<circle cx="254.0" cy="431.0" r="0.35" fill-opacity="0.48"/>
<circle cx="277.5" cy="439.9" r="0.35" fill-opacity="0.30"/>
<circle cx="269.7" cy="408.2" r="0.4" fill-opacity="0.26"/>
<circle cx="246.3" cy="430.9" r="0.3" fill-opacity="0.60"/>
<circle cx="287.2" cy="401.9" r="0.4" fill-opacity="0.54"/>
<circle cx="282.0" cy="443.7" r="0.4" fill-opacity="0.37"/>
<circle cx="252.5" cy="441.3" r="0.5" fill-opacity="0.48"/>
<circle cx="290.4" cy="428.7" r="0.3" fill-opacity="0.37"/>
<circle cx="273.4" cy="428.5" r="0.4" fill-opacity="0.49"/>
<circle cx="271.0" cy="434.0" r="0.35" fill-opacity="0.40"/>
<circle cx="281.1" cy="423.7" r="0.4" fill-opacity="0.32"/>
<circle cx="269.2" cy="410.1" r="0.5" fill-opacity="0.34"/>
<circle cx="255.2" cy="440.8" r="0.5" fill-opacity="0.44"/>
<circle cx="271.7" cy="440.7" r="0.4" fill-opacity="0.30"/>
<circle cx="263.9" cy="428.2" r="0.5" fill-opacity="0.39"/>
<circle cx="280.6" cy="443.0" r="0.3" fill-opacity="0.33"/>
<circle cx="267.8" cy="431.6" r="0.5" fill-opacity="0.47"/>
<circle cx="248.2" cy="417.8" r="0.4" fill-opacity="0.56"/>
<circle cx="285.4" cy="407.6" r="0.4" fill-opacity="0.43"/>
<circle cx="277.0" cy="441.4" r="0.35" fill-opacity="0.50"/>
<circle cx="251.2" cy="427.7" r="0.3" fill-opacity="0.38"/>
<circle cx="281.1" cy="414.3" r="0.4" fill-opacity="0.32"/>
<circle cx="284.5" cy="424.7" r="0.35" fill-opacity="0.31"/>
<circle cx="263.8" cy="426.6" r="0.3" fill-opacity="0.59"/>
<circle cx="286.7" cy="429.0" r="0.3" fill-opacity="0.29"/>
<circle cx="257.0" cy="417.5" r="0.4" fill-opacity="0.45"/>
<circle cx="279.4" cy="443.2" r="0.4" fill-opacity="0.55"/>
<circle cx="241.1" cy="413.3" r="0.35" fill-opacity="0.42"/>
<circle cx="295.1" cy="422.8" r="0.5" fill-opacity="0.33"/>
<circle cx="251.0" cy="436.5" r="0.5" fill-opacity="0.43"/>
<circle cx="291.6" cy="433.5" r="0.4" fill-opacity="0.40"/>
<circle cx="286.6" cy="408.2" r="0.5" fill-opacity="0.46"/>
<circle cx="259.6" cy="409.6" r="0.4" fill-opacity="0.40"/>
<circle cx="276.0" cy="418.4" r="0.4" fill-opacity="0.39"/>
<circle cx="244.0" cy="434.5" r="0.3" fill-opacity="0.48"/>
<circle cx="256.7" cy="419.6" r="0.5" fill-opacity="0.37"/>
<circle cx="255.7" cy="418.9" r="0.35" fill-opacity="0.30"/>
<circle cx="242.0" cy="415.6" r="0.35" fill-opacity="0.33"/>
<circle cx="256.5" cy="416.6" r="0.3" fill-opacity="0.37"/>
<circle cx="244.8" cy="421.6" r="0.5" fill-opacity="0.27"/>
<circle cx="269.9" cy="404.1" r="0.3" fill-opacity="0.36"/>
<circle cx="290.6" cy="424.2" r="0.35" fill-opacity="0.57"/>
<circle cx="290.7" cy="442.0" r="0.35" fill-opacity="0.28"/>
<circle cx="292.9" cy="401.2" r="0.4" fill-opacity="0.53"/>
<circle cx="251.4" cy="432.6" r="0.35" fill-opacity="0.43"/>
<circle cx="292.2" cy="419.1" r="0.5" fill-opacity="0.47"/>
<circle cx="287.5" cy="441.2" r="0.3" fill-opacity="0.46"/>
<circle cx="293.5" cy="434.6" r="0.4" fill-opacity="0.44"/>
<circle cx="256.3" cy="444.4" r="0.4" fill-opacity="0.34"/>
<circle cx="260.5" cy="442.9" r="0.35" fill-opacity="0.50"/>
<circle cx="245.2" cy="432.5" r="0.3" fill-opacity="0.60"/>
<circle cx="285.8" cy="418.3" r="0.4" fill-opacity="0.57"/>
<circle cx="241.4" cy="402.4" r="0.5" fill-opacity="0.60"/>
<circle cx="266.2" cy="410.8" r="0.35" fill-opacity="0.41"/>
<circle cx="239.2" cy="399.2" r="0.4" fill-opacity="0.35"/>
</g>
<g fill="#8a8a8a" filter="url(#blur03)">
</g>
</g>
<rect x="237.0" y="395.8" width="61.8" height="52.4" fill="none" stroke="#555" stroke-width="0.8"/>
<clipPath id="mc4"><rect x="301.7" y="395.8" width="61.6" height="52.4"/></clipPath>
<g clip-path="url(#mc4)">
<rect x="301.7" y="395.8" width="61.6" height="52.4" fill="#c5c5c5"/>
<g filter="url(#mblur)">
<ellipse cx="336" cy="413" rx="28" ry="18" fill="#e7e7e7"/>
<ellipse cx="342" cy="410" rx="16" ry="10" fill="#eeeeee"/>
</g>
<g fill="#606060">
<circle cx="309.9" cy="431.8" r="0.35" fill-opacity="0.34"/>
<circle cx="318.4" cy="433.3" r="0.5" fill-opacity="0.36"/>
<circle cx="343.1" cy="417.0" r="0.3" fill-opacity="0.34"/>
<circle cx="353.9" cy="413.1" r="0.4" fill-opacity="0.38"/>
<circle cx="340.1" cy="422.8" r="0.35" fill-opacity="0.44"/>
<circle cx="341.9" cy="405.8" r="0.3" fill-opacity="0.29"/>
<circle cx="323.1" cy="401.8" r="0.35" fill-opacity="0.55"/>
<circle cx="325.7" cy="426.0" r="0.5" fill-opacity="0.56"/>
<circle cx="309.1" cy="428.8" r="0.3" fill-opacity="0.45"/>
<circle cx="340.4" cy="415.4" r="0.3" fill-opacity="0.51"/>
<circle cx="331.7" cy="430.3" r="0.4" fill-opacity="0.41"/>
<circle cx="316.3" cy="436.4" r="0.4" fill-opacity="0.29"/>
<circle cx="350.8" cy="402.1" r="0.4" fill-opacity="0.29"/>
<circle cx="313.0" cy="417.7" r="0.3" fill-opacity="0.40"/>
<circle cx="359.8" cy="405.9" r="0.5" fill-opacity="0.41"/>
<circle cx="331.6" cy="419.0" r="0.3" fill-opacity="0.34"/>
<circle cx="326.4" cy="419.5" r="0.5" fill-opacity="0.27"/>
<circle cx="312.0" cy="431.8" r="0.5" fill-opacity="0.26"/>
<circle cx="344.3" cy="443.5" r="0.5" fill-opacity="0.26"/>
<circle cx="344.6" cy="415.6" r="0.5" fill-opacity="0.34"/>
<circle cx="321.1" cy="406.9" r="0.5" fill-opacity="0.53"/>
<circle cx="309.2" cy="402.5" r="0.35" fill-opacity="0.36"/>
<circle cx="360.3" cy="426.2" r="0.4" fill-opacity="0.43"/>
<circle cx="350.0" cy="445.7" r="0.3" fill-opacity="0.26"/>
<circle cx="312.1" cy="407.4" r="0.35" fill-opacity="0.34"/>
<circle cx="332.5" cy="406.6" r="0.35" fill-opacity="0.46"/>
<circle cx="356.5" cy="411.9" r="0.4" fill-opacity="0.26"/>
<circle cx="356.8" cy="433.7" r="0.35" fill-opacity="0.43"/>
<circle cx="352.2" cy="415.5" r="0.5" fill-opacity="0.34"/>
<circle cx="326.1" cy="424.6" r="0.4" fill-opacity="0.42"/>
<circle cx="358.6" cy="399.3" r="0.5" fill-opacity="0.41"/>
<circle cx="323.3" cy="410.5" r="0.3" fill-opacity="0.30"/>
<circle cx="306.8" cy="442.7" r="0.35" fill-opacity="0.34"/>
<circle cx="329.5" cy="424.2" r="0.5" fill-opacity="0.27"/>
<circle cx="309.8" cy="431.9" r="0.5" fill-opacity="0.40"/>
</g>
<g fill="#8a8a8a" filter="url(#blur03)">
<circle cx="328.3" cy="411" r="1.2"/>
<circle cx="338.6" cy="436.4" r="1.6"/>
<circle cx="308.5" cy="424.8" r="1.3"/>
<circle cx="349" cy="418.5" r="1.2"/>
<circle cx="359.4" cy="414.8" r="1.0"/>
<circle cx="341.5" cy="402.5" r="1.0"/>
<circle cx="334.9" cy="417.2" r="0.9"/>
<circle cx="326.4" cy="421.4" r="0.9"/>
<circle cx="302.9" cy="430.8" r="1.2"/>
<circle cx="318.9" cy="433.6" r="0.9"/>
<circle cx="344.3" cy="444.9" r="1.1"/>
<circle cx="352.8" cy="445.8" r="0.9"/>
<circle cx="358.4" cy="431.7" r="0.9"/>
<circle cx="313.2" cy="413.8" r="0.8"/>
<circle cx="324.5" cy="406.3" r="0.8"/>
<circle cx="318.9" cy="403.5" r="0.8"/>
<circle cx="350.9" cy="398.8" r="0.8"/>
<circle cx="307.6" cy="444.9" r="0.8"/>
<circle cx="317.9" cy="424.2" r="0.8"/>
<circle cx="303" cy="441" r="1.0"/>
</g>
</g>
<rect x="301.7" y="395.8" width="61.6" height="52.4" fill="none" stroke="#555" stroke-width="0.8"/>
<rect x="244.0" y="387.0" width="23.4" height="3.4" fill="#fff"/>
<text x="255.70" y="389.70" font-size="2.9" fill="#333" text-anchor="middle" font-weight="normal" >960 µm</text>
<rect x="308.6" y="387.0" width="23.4" height="3.4" fill="#fff"/>
<text x="320.30" y="389.70" font-size="2.9" fill="#333" text-anchor="middle" font-weight="normal" >960 µm</text>
<rect x="244.0" y="441.8" width="23.4" height="3.4" fill="#fff"/>
<text x="255.70" y="444.50" font-size="2.9" fill="#333" text-anchor="middle" font-weight="normal" >960 µm</text>
<rect x="308.6" y="441.8" width="23.4" height="3.4" fill="#fff"/>
<text x="320.30" y="444.50" font-size="2.9" fill="#333" text-anchor="middle" font-weight="normal" >960 µm</text>
<line x1="459.4" y1="410" x2="459.4" y2="358" stroke="url(#axup)" stroke-width="2.2"/>
<line x1="459.4" y1="409" x2="416.5" y2="435.2" stroke="url(#axl)" stroke-width="2.2"/>
<line x1="459.4" y1="409" x2="502.3" y2="435.2" stroke="url(#axr)" stroke-width="2.2"/>
<path d="M459.4,352.9 L455.1,362.6 L459.4,361 L463.7,362.6 Z" fill="#a3215c"/>
<path d="M411.6,438 L417.6,429.8 L418.5,434 L422,436.5 Z" fill="#a3215c"/>
<path d="M507.2,438 L501.2,429.8 L500.3,434 L496.8,436.5 Z" fill="#a3215c"/>
<text x="432.00" y="341.80" font-size="6.5" fill="#222" text-anchor="start" font-weight="normal" textLength="49.2" lengthAdjust="spacingAndGlyphs">HIF1α activation/</text>
<text x="432.00" y="349.60" font-size="6.5" fill="#222" text-anchor="start" font-weight="normal" textLength="55.8" lengthAdjust="spacingAndGlyphs">altered metabolism</text>
<text transform="translate(457.4,385.3) rotate(-90)" font-size="9.2" fill="#222" text-anchor="middle">Hypoxia</text>
<text transform="translate(437.6,418.6) rotate(-35)" font-size="8.8" fill="#222" text-anchor="middle">KRAS</text>
<text transform="translate(480.6,419.5) rotate(33)" font-size="8.8" fill="#222" text-anchor="middle">cMYC</text>
<text x="381.60" y="407.10" font-size="6.5" fill="#222" text-anchor="start" font-weight="normal" textLength="29.3" lengthAdjust="spacingAndGlyphs">Migration/</text>
<text x="381.60" y="415.30" font-size="6.5" fill="#222" text-anchor="start" font-weight="normal" textLength="39.8" lengthAdjust="spacingAndGlyphs">mesenchymal</text>
<text x="381.60" y="423.50" font-size="6.5" fill="#222" text-anchor="start" font-weight="normal" textLength="27.1" lengthAdjust="spacingAndGlyphs">(Verhaak)</text>
<text x="491.00" y="407.10" font-size="6.6" fill="#222" text-anchor="start" font-weight="normal" textLength="37.8" lengthAdjust="spacingAndGlyphs">Proliferation/</text>
<text x="498.90" y="415.30" font-size="6.6" fill="#222" text-anchor="start" font-weight="normal" textLength="28.3" lengthAdjust="spacingAndGlyphs">proneural</text>
<g transform="translate(439.8,367.0) rotate(-15)" opacity="1.0"><ellipse rx="8.4" ry="10.0" fill="#8174c4" stroke="#4a3c90" stroke-width="0.7"/><ellipse cx="-1.8" cy="-1.2" rx="2.8" ry="2.2" fill="#3fc4e6"/></g>
<g transform="translate(433.4,400.4) rotate(-25)" opacity="1.0"><ellipse rx="9.8" ry="7.0" fill="#f5b49a" stroke="#cc6c58" stroke-width="0.7"/><ellipse cx="-1.2" cy="2" rx="3.0" ry="2.1" fill="#e8457a"/></g>
<g transform="translate(479.7,398.6) rotate(-20)" opacity="1.0"><ellipse rx="8.8" ry="10.2" fill="#93cb6a" stroke="#4f963a" stroke-width="0.7"/><ellipse cx="1.4" cy="-0.5" rx="2.8" ry="2.4" fill="#f2ea3a"/></g>
<text x="391.20" y="461.80" font-size="11.0" fill="#111" text-anchor="start" font-weight="normal" textLength="264.4" lengthAdjust="spacingAndGlyphs">Triple axis model of GBM phenotypic heterogeneity</text>
<circle cx="597.3" cy="382.8" r="61.5" fill="url(#tumor)" filter="url(#cblur)"/>
<path d="M566,324 C575,316 605,313 618,322 C626,330 625,345 624,352 C628,356 631,360 626,363 C622,364 620,366 621,370 C616,371 612,369 609,374 C606,377 603,374 600,377 C598,380 595,378 593,373 C588,372 584,376 579,372 C575,368 570,372 567,368 C563,364 558,363 560,358 C562,353 557,350 559,345 C561,340 559,333 566,324 Z" fill="url(#pan)" filter="url(#blur05)"/>
<text font-size="8.3" fill="#eb942f"><textPath href="#panarc" startOffset="50%" text-anchor="middle">PAN Region</textPath></text>
<g transform="translate(591.6,327.8) rotate(0)" opacity="0.9"><ellipse rx="6.5" ry="5.2" fill="#ece6ee" stroke="#d8d0dc" stroke-width="0.7"/><ellipse cx="0" cy="0" rx="2" ry="1.5" fill="#e6e0ea"/></g>
<g transform="translate(574.2,337.4) rotate(5)" opacity="0.9"><ellipse rx="8.4" ry="5.6" fill="#b4a6c2" stroke="#8a7aa6" stroke-width="0.7"/><ellipse cx="0" cy="0" rx="2.6" ry="1.5" fill="#8ec8d0"/></g>
<g transform="translate(596.0,345.5) rotate(25)" opacity="1.0"><ellipse rx="8.0" ry="6.2" fill="#9e8ec4" stroke="#675a9e" stroke-width="0.7"/><ellipse cx="0" cy="0" rx="2.6" ry="1.6" fill="#52bed6"/></g>
<g transform="translate(614.5,343.9) rotate(0)" opacity="0.92"><ellipse rx="6.2" ry="7.4" fill="#ab9bc4" stroke="#7a6aa2" stroke-width="0.7"/><ellipse cx="0" cy="0" rx="1.8" ry="2.2" fill="#7ac4d4"/></g>
<g transform="translate(575.0,352.7) rotate(15)" opacity="1.0"><ellipse rx="6.2" ry="8.2" fill="#8074c2" stroke="#4a3d90" stroke-width="0.7"/><ellipse cx="0" cy="0" rx="1.8" ry="2.4" fill="#3ec4e8"/></g>
<g transform="translate(586.8,362.4) rotate(-15)" opacity="1.0"><ellipse rx="8.2" ry="6.2" fill="#8074c2" stroke="#4a3d90" stroke-width="0.7"/><ellipse cx="0" cy="0" rx="2.6" ry="1.7" fill="#3ec4e8"/></g>
<g transform="translate(604.5,362.4) rotate(20)" opacity="1.0"><ellipse rx="6.5" ry="8.2" fill="#8074c2" stroke="#4a3d90" stroke-width="0.7"/><ellipse cx="0" cy="0" rx="1.8" ry="2.6" fill="#3ec4e8"/></g>
<g transform="translate(550.3,357.4) rotate(-20)" opacity="1.0"><ellipse rx="7" ry="5.5" fill="#a5d778" stroke="#5a963c" stroke-width="0.7"/><ellipse cx="0" cy="0" rx="2.52" ry="1.76" fill="#f2e63c"/></g>
<g transform="translate(546.3,369.8) rotate(10)" opacity="1.0"><ellipse rx="7.5" ry="5" fill="#a5d778" stroke="#5a963c" stroke-width="0.7"/><ellipse cx="0" cy="0" rx="2.6999999999999997" ry="1.6" fill="#f2e63c"/></g>
<g transform="translate(561,375.5) rotate(20)" opacity="1.0"><ellipse rx="6" ry="7" fill="#a5d778" stroke="#5a963c" stroke-width="0.7"/><ellipse cx="0" cy="0" rx="2.16" ry="2.24" fill="#f2e63c"/></g>
<g transform="translate(547.4,389) rotate(10)" opacity="1.0"><ellipse rx="7" ry="5.5" fill="#a5d778" stroke="#5a963c" stroke-width="0.7"/><ellipse cx="0" cy="0" rx="2.52" ry="1.76" fill="#f2e63c"/></g>
<g transform="translate(563.2,389) rotate(0)" opacity="1.0"><ellipse rx="6.5" ry="6.5" fill="#a5d778" stroke="#5a963c" stroke-width="0.7"/><ellipse cx="0" cy="0" rx="2.34" ry="2.08" fill="#f2e63c"/></g>
<g transform="translate(551.9,402.5) rotate(-10)" opacity="1.0"><ellipse rx="6.5" ry="6" fill="#a5d778" stroke="#5a963c" stroke-width="0.7"/><ellipse cx="0" cy="0" rx="2.34" ry="1.92" fill="#f2e63c"/></g>
<g transform="translate(564.3,403.7) rotate(10)" opacity="1.0"><ellipse rx="5.5" ry="7" fill="#a5d778" stroke="#5a963c" stroke-width="0.7"/><ellipse cx="0" cy="0" rx="1.98" ry="2.24" fill="#f2e63c"/></g>
<g transform="translate(554.2,416.1) rotate(-5)" opacity="1.0"><ellipse rx="7" ry="5.5" fill="#a5d778" stroke="#5a963c" stroke-width="0.7"/><ellipse cx="0" cy="0" rx="2.52" ry="1.76" fill="#f2e63c"/></g>
<g transform="translate(570,415) rotate(-10)" opacity="1.0"><ellipse rx="7" ry="6" fill="#a5d778" stroke="#5a963c" stroke-width="0.7"/><ellipse cx="0" cy="0" rx="2.52" ry="1.92" fill="#f2e63c"/></g>
<g transform="translate(635.4,355.2) rotate(15)" opacity="1.0"><ellipse rx="6" ry="7" fill="#a5d778" stroke="#5a963c" stroke-width="0.7"/><ellipse cx="0" cy="0" rx="2.16" ry="2.24" fill="#f2e63c"/></g>
<g transform="translate(642.2,368.7) rotate(-20)" opacity="1.0"><ellipse rx="6.5" ry="7" fill="#a5d778" stroke="#5a963c" stroke-width="0.7"/><ellipse cx="0" cy="0" rx="2.34" ry="2.24" fill="#f2e63c"/></g>
<g transform="translate(638.8,383.4) rotate(10)" opacity="1.0"><ellipse rx="7" ry="6" fill="#a5d778" stroke="#5a963c" stroke-width="0.7"/><ellipse cx="0" cy="0" rx="2.52" ry="1.92" fill="#f2e63c"/></g>
<g transform="translate(649,390.1) rotate(15)" opacity="1.0"><ellipse rx="6" ry="7" fill="#a5d778" stroke="#5a963c" stroke-width="0.7"/><ellipse cx="0" cy="0" rx="2.16" ry="2.24" fill="#f2e63c"/></g>
<g transform="translate(630.9,396.9) rotate(-10)" opacity="1.0"><ellipse rx="5.5" ry="7.5" fill="#a5d778" stroke="#5a963c" stroke-width="0.7"/><ellipse cx="0" cy="0" rx="1.98" ry="2.4" fill="#f2e63c"/></g>
<g transform="translate(645.6,405.9) rotate(15)" opacity="1.0"><ellipse rx="6" ry="7" fill="#a5d778" stroke="#5a963c" stroke-width="0.7"/><ellipse cx="0" cy="0" rx="2.16" ry="2.24" fill="#f2e63c"/></g>
<g transform="translate(635.4,417.2) rotate(0)" opacity="1.0"><ellipse rx="5.5" ry="7" fill="#a5d778" stroke="#5a963c" stroke-width="0.7"/><ellipse cx="0" cy="0" rx="1.98" ry="2.24" fill="#f2e63c"/></g>
<g transform="translate(568.8,426.2) rotate(0)" opacity="0.35"><ellipse rx="6" ry="6.5" fill="#a5d778" stroke="#5a963c" stroke-width="0.7"/><ellipse cx="0" cy="0" rx="2.16" ry="2.08" fill="#f2e63c"/></g>
<g transform="translate(582.4,426.2) rotate(0)" opacity="0.35"><ellipse rx="6" ry="6.5" fill="#a5d778" stroke="#5a963c" stroke-width="0.7"/><ellipse cx="0" cy="0" rx="2.16" ry="2.08" fill="#f2e63c"/></g>
<g transform="translate(627,374.3) rotate(-10)" opacity="1.0"><ellipse rx="7.5" ry="5.5" fill="#f7bfa5" stroke="#c87058" stroke-width="0.7"/><ellipse cx="0" cy="0" rx="2.6999999999999997" ry="1.87" fill="#eb466e"/></g>
<g transform="translate(576.3,392.4) rotate(15)" opacity="1.0"><ellipse rx="6" ry="7" fill="#f7bfa5" stroke="#c87058" stroke-width="0.7"/><ellipse cx="0" cy="0" rx="2.16" ry="2.3800000000000003" fill="#eb466e"/></g>
<g transform="translate(590.3,391.3) rotate(-10)" opacity="1.0"><ellipse rx="6" ry="7" fill="#f7bfa5" stroke="#c87058" stroke-width="0.7"/><ellipse cx="0" cy="0" rx="2.16" ry="2.3800000000000003" fill="#eb466e"/></g>
<g transform="translate(603.8,386.7) rotate(10)" opacity="1.0"><ellipse rx="7" ry="6" fill="#f7bfa5" stroke="#c87058" stroke-width="0.7"/><ellipse cx="0" cy="0" rx="2.52" ry="2.04" fill="#eb466e"/></g>
<g transform="translate(619.6,385.6) rotate(15)" opacity="1.0"><ellipse rx="7" ry="6" fill="#f7bfa5" stroke="#c87058" stroke-width="0.7"/><ellipse cx="0" cy="0" rx="2.52" ry="2.04" fill="#eb466e"/></g>
<g transform="translate(582,403.7) rotate(10)" opacity="1.0"><ellipse rx="7.5" ry="5.5" fill="#f7bfa5" stroke="#c87058" stroke-width="0.7"/><ellipse cx="0" cy="0" rx="2.6999999999999997" ry="1.87" fill="#eb466e"/></g>
<g transform="translate(599.3,400.3) rotate(-15)" opacity="1.0"><ellipse rx="7" ry="6" fill="#f7bfa5" stroke="#c87058" stroke-width="0.7"/><ellipse cx="0" cy="0" rx="2.52" ry="2.04" fill="#eb466e"/></g>
<g transform="translate(615.1,398) rotate(-10)" opacity="1.0"><ellipse rx="7.5" ry="5.5" fill="#f7bfa5" stroke="#c87058" stroke-width="0.7"/><ellipse cx="0" cy="0" rx="2.6999999999999997" ry="1.87" fill="#eb466e"/></g>
<g transform="translate(586.9,412.2) rotate(-5)" opacity="1.0"><ellipse rx="7.5" ry="5.5" fill="#f7bfa5" stroke="#c87058" stroke-width="0.7"/><ellipse cx="0" cy="0" rx="2.6999999999999997" ry="1.87" fill="#eb466e"/></g>
<g transform="translate(605,410.9) rotate(5)" opacity="1.0"><ellipse rx="7.5" ry="5.5" fill="#f7bfa5" stroke="#c87058" stroke-width="0.7"/><ellipse cx="0" cy="0" rx="2.6999999999999997" ry="1.87" fill="#eb466e"/></g>
<g transform="translate(621.9,410) rotate(10)" opacity="1.0"><ellipse rx="7.5" ry="5.5" fill="#f7bfa5" stroke="#c87058" stroke-width="0.7"/><ellipse cx="0" cy="0" rx="2.6999999999999997" ry="1.87" fill="#eb466e"/></g>
<g transform="translate(595.9,422.8) rotate(0)" opacity="0.35"><ellipse rx="6" ry="7" fill="#f7bfa5" stroke="#c87058" stroke-width="0.7"/><ellipse cx="0" cy="0" rx="2.16" ry="2.3800000000000003" fill="#eb466e"/></g>
<g transform="translate(610.6,422.8) rotate(0)" opacity="0.35"><ellipse rx="6" ry="7" fill="#f7bfa5" stroke="#c87058" stroke-width="0.7"/><ellipse cx="0" cy="0" rx="2.16" ry="2.3800000000000003" fill="#eb466e"/></g>
<g transform="translate(621.9,421.7) rotate(0)" opacity="0.35"><ellipse rx="5.5" ry="7" fill="#f7bfa5" stroke="#c87058" stroke-width="0.7"/><ellipse cx="0" cy="0" rx="1.98" ry="2.3800000000000003" fill="#eb466e"/></g>
<rect x="537" y="418" width="121" height="30" fill="url(#fadeb)" clip-path="url(#tclip)" opacity="0.6"/>
<text font-size="8.0" fill="#3a90d2"><textPath href="#ctarc" startOffset="50%" text-anchor="middle">Cellular tumor region</textPath></text>
</svg></body></html>
